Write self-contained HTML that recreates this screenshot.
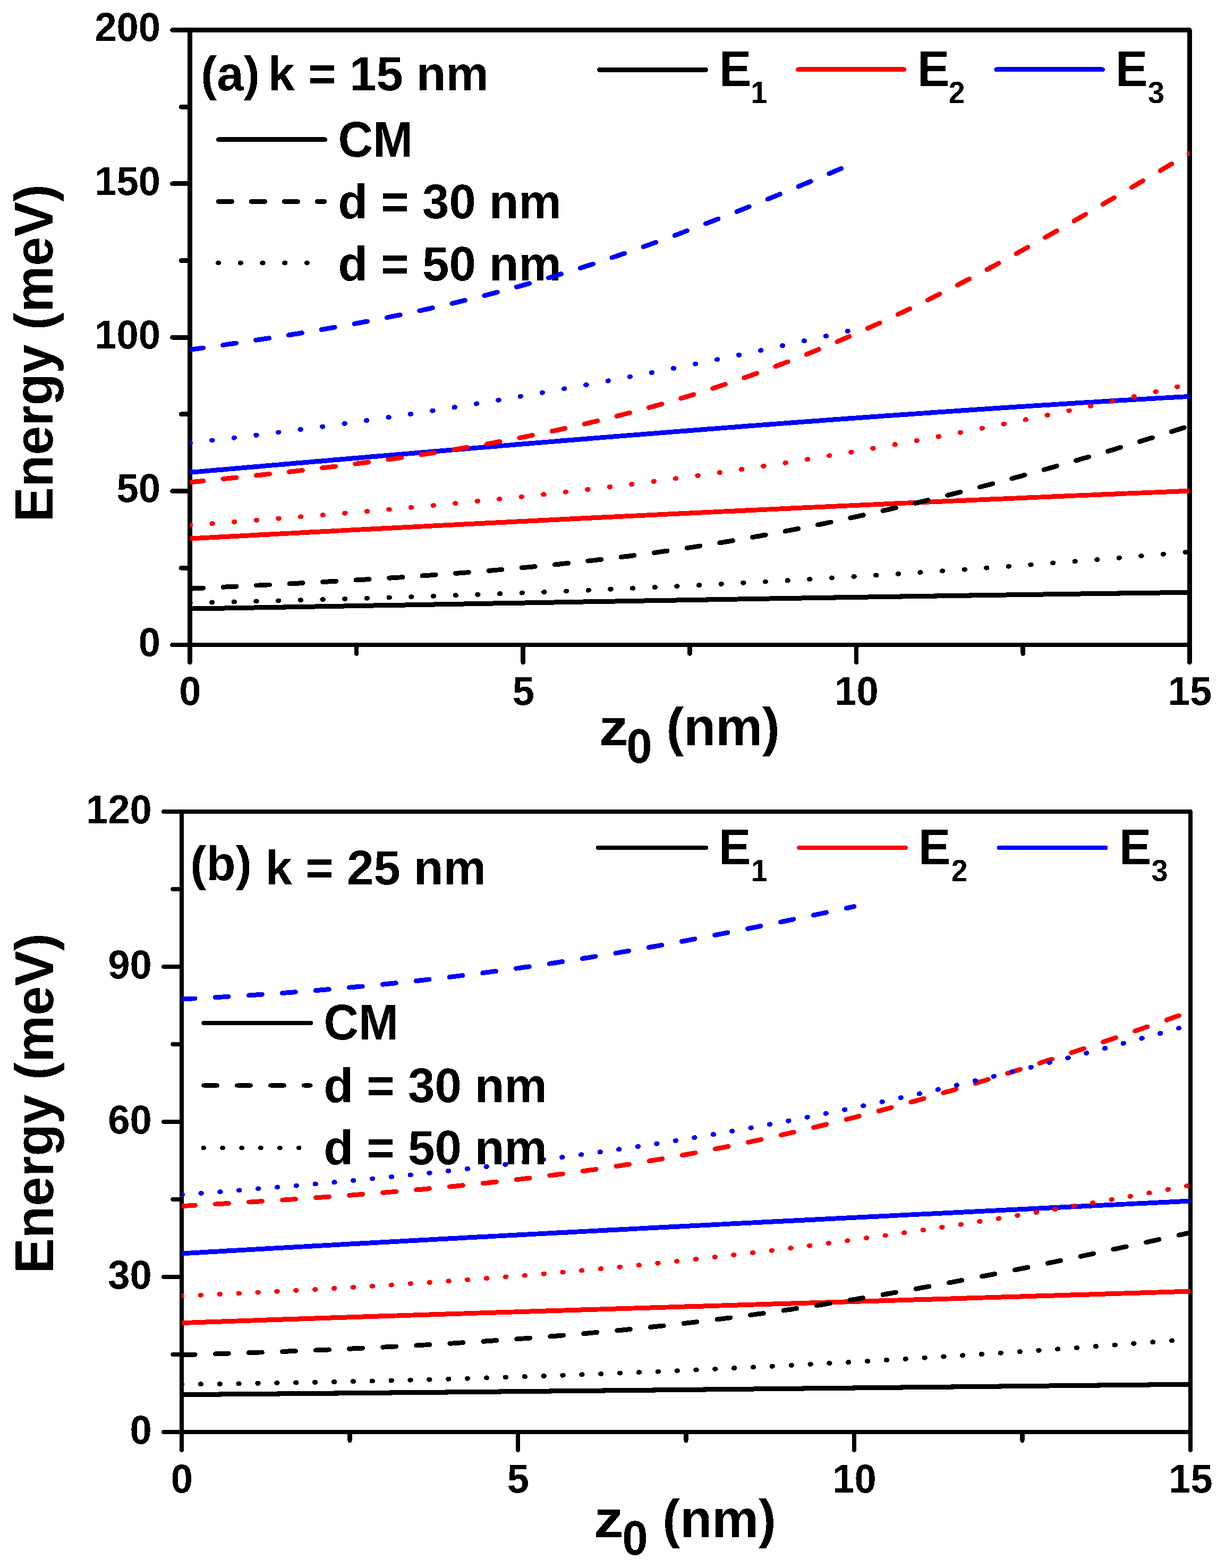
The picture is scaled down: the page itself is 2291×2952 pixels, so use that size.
<!DOCTYPE html><html><head><meta charset="utf-8"><title>Energy vs z0</title>
<style>html,body{margin:0;padding:0;background:#fff;overflow:hidden;}svg{display:block;}text{font-family:'Liberation Sans', sans-serif;font-weight:bold;}</style></head><body>
<svg width="2291" height="2952" viewBox="0 0 2291 2952">
<rect width="2291" height="2952" fill="#fff"/>
<filter id="bin" x="0" y="0" width="2291" height="2952" filterUnits="userSpaceOnUse" color-interpolation-filters="sRGB"><feComponentTransfer><feFuncA type="discrete" tableValues="0 1"/></feComponentTransfer></filter>
<g filter="url(#bin)">
<g id="panel-a">
<text transform="translate(378.2 170.2) scale(1 1)" font-size="90.6" fill="#000">(a)</text>
<text transform="translate(504.4 169.6) scale(1 1)" font-size="90.6" fill="#000">k = 15 nm</text>
<text transform="translate(1354.1 161.9) scale(1 1.04)" font-size="90.6" fill="#000">E</text>
<text transform="translate(1413.3 193.7) scale(1 1.035)" font-size="55.5" fill="#000">1</text>
<text transform="translate(1727.2 161.7) scale(1 1.04)" font-size="90.6" fill="#000">E</text>
<text transform="translate(1785.7 194) scale(1 1.035)" font-size="55.5" fill="#000">2</text>
<text transform="translate(2100.3 161.7) scale(1 1.04)" font-size="90.6" fill="#000">E</text>
<text transform="translate(2161.1 194) scale(1 1.035)" font-size="55.5" fill="#000">3</text>
<path d="M1128.5 131.4H1328.5" stroke="#000000" stroke-width="8.8" stroke-linecap="round"/>
<path d="M1502.3 130.8H1702" stroke="#ff0000" stroke-width="8.8" stroke-linecap="round"/>
<path d="M1875.8 130.8H2075.6" stroke="#0000ff" stroke-width="8.8" stroke-linecap="round"/>
<text transform="translate(636.5 295) scale(1 1.04)" font-size="90.6" fill="#000">CM</text>
<text transform="translate(636.5 410.6) scale(1 1.01)" font-size="90.6" fill="#000">d = 30 nm</text>
<text transform="translate(636.5 527.5) scale(1 1.01)" font-size="90.6" fill="#000">d = 50 nm</text>
<path d="M411.2 262.9H611.8" stroke="#000" stroke-width="8.8" stroke-linecap="round"/>
<path d="M411.2 379.3H611" stroke="#000" stroke-width="8.8" stroke-linecap="round" stroke-dasharray="25.4 36.6"/>
<path d="M410.2 495H611" stroke="#000" stroke-width="8.8" stroke-linecap="round" stroke-dasharray="1.5 40.3"/>
<path d="M357.5 56.5H2239.4V1214H357.5Z" fill="none" stroke="#000" stroke-width="8.6" stroke-linejoin="round"/>
<path d="M357.5 1214H324.5M357.5 1069.3H341M357.5 924.6H324.5M357.5 779.9H341M357.5 635.2H324.5M357.5 490.6H341M357.5 345.9H324.5M357.5 201.2H341M357.5 56.5H324.5M357.5 1214V1247M671.1 1214V1230.5M984.8 1214V1247M1298.5 1214V1230.5M1612.1 1214V1247M1925.8 1214V1230.5M2239.4 1214V1247" fill="none" stroke="#000" stroke-width="8.6" stroke-linecap="round"/>
<clipPath id="clip-a"><rect x="357.5" y="56.5" width="1881.9" height="1157.5"/></clipPath>
<g clip-path="url(#clip-a)">
<path d="M357.5 1146.1L362.5 1146L367.5 1145.9L372.5 1145.9L377.5 1145.8L382.5 1145.7L387.5 1145.6L392.5 1145.5L397.5 1145.4L402.5 1145.3L407.6 1145.2L412.6 1145.2L417.6 1145.1L422.6 1145L427.6 1144.9L432.6 1144.8L437.6 1144.7L442.6 1144.6L447.6 1144.5L452.6 1144.5L457.6 1144.4L462.6 1144.3L467.6 1144.2L472.6 1144.1L477.6 1144L482.6 1143.9L487.6 1143.8L492.6 1143.8L497.6 1143.7L502.6 1143.6L507.7 1143.5L512.7 1143.4L517.7 1143.3L522.7 1143.2L527.7 1143.1L532.7 1143L537.7 1143L542.7 1142.9L547.7 1142.8L552.7 1142.7L557.7 1142.6L562.7 1142.5L567.7 1142.4L572.7 1142.3L577.7 1142.3L582.7 1142.2L587.7 1142.1L592.7 1142L597.7 1141.9L602.7 1141.8L607.8 1141.7L612.8 1141.6L617.8 1141.5L622.8 1141.5L627.8 1141.4L632.8 1141.3L637.8 1141.2L642.8 1141.1L647.8 1141L652.8 1140.9L657.8 1140.8L662.8 1140.7L667.8 1140.7L672.8 1140.6L677.8 1140.5L682.8 1140.4L687.8 1140.3L692.8 1140.2L697.8 1140.1L702.8 1140L707.9 1139.9L712.9 1139.9L717.9 1139.8L722.9 1139.7L727.9 1139.6L732.9 1139.5L737.9 1139.4L742.9 1139.3L747.9 1139.2L752.9 1139.1L757.9 1139.1L762.9 1139L767.9 1138.9L772.9 1138.8L777.9 1138.7L782.9 1138.6L787.9 1138.5L792.9 1138.4L797.9 1138.3L802.9 1138.2L808 1138.2L813 1138.1L818 1138L823 1137.9L828 1137.8L833 1137.7L838 1137.6L843 1137.5L848 1137.4L853 1137.4L858 1137.3L863 1137.2L868 1137.1L873 1137L878 1136.9L883 1136.8L888 1136.7L893 1136.6L898 1136.6L903.1 1136.5L908.1 1136.4L913.1 1136.3L918.1 1136.2L923.1 1136.1L928.1 1136L933.1 1135.9L938.1 1135.8L943.1 1135.8L948.1 1135.7L953.1 1135.6L958.1 1135.5L963.1 1135.4L968.1 1135.3L973.1 1135.2L978.1 1135.1L983.1 1135.1L988.1 1135L993.1 1134.9L998.1 1134.8L1003.2 1134.7L1008.2 1134.6L1013.2 1134.5L1018.2 1134.4L1023.2 1134.3L1028.2 1134.3L1033.2 1134.2L1038.2 1134.1L1043.2 1134L1048.2 1133.9L1053.2 1133.8L1058.2 1133.7L1063.2 1133.6L1068.2 1133.6L1073.2 1133.5L1078.2 1133.4L1083.2 1133.3L1088.2 1133.2L1093.2 1133.1L1098.2 1133L1103.3 1132.9L1108.3 1132.9L1113.3 1132.8L1118.3 1132.7L1123.3 1132.6L1128.3 1132.5L1133.3 1132.4L1138.3 1132.3L1143.3 1132.2L1148.3 1132.2L1153.3 1132.1L1158.3 1132L1163.3 1131.9L1168.3 1131.8L1173.3 1131.7L1178.3 1131.6L1183.3 1131.5L1188.3 1131.5L1193.3 1131.4L1198.3 1131.3L1203.4 1131.2L1208.4 1131.1L1213.4 1131L1218.4 1130.9L1223.4 1130.8L1228.4 1130.8L1233.4 1130.7L1238.4 1130.6L1243.4 1130.5L1248.4 1130.4L1253.4 1130.3L1258.4 1130.2L1263.4 1130.2L1268.4 1130.1L1273.4 1130L1278.4 1129.9L1283.4 1129.8L1288.4 1129.7L1293.4 1129.6L1298.5 1129.6L1303.5 1129.5L1308.5 1129.4L1313.5 1129.3L1318.5 1129.2L1323.5 1129.1L1328.5 1129L1333.5 1129L1338.5 1128.9L1343.5 1128.8L1348.5 1128.7L1353.5 1128.6L1358.5 1128.5L1363.5 1128.4L1368.5 1128.4L1373.5 1128.3L1378.5 1128.2L1383.5 1128.1L1388.5 1128L1393.5 1127.9L1398.6 1127.9L1403.6 1127.8L1408.6 1127.7L1413.6 1127.6L1418.6 1127.5L1423.6 1127.4L1428.6 1127.4L1433.6 1127.3L1438.6 1127.2L1443.6 1127.1L1448.6 1127L1453.6 1126.9L1458.6 1126.9L1463.6 1126.8L1468.6 1126.7L1473.6 1126.6L1478.6 1126.5L1483.6 1126.4L1488.6 1126.4L1493.6 1126.3L1498.7 1126.2L1503.7 1126.1L1508.7 1126L1513.7 1125.9L1518.7 1125.9L1523.7 1125.8L1528.7 1125.7L1533.7 1125.6L1538.7 1125.5L1543.7 1125.5L1548.7 1125.4L1553.7 1125.3L1558.7 1125.2L1563.7 1125.1L1568.7 1125L1573.7 1125L1578.7 1124.9L1583.7 1124.8L1588.7 1124.7L1593.7 1124.6L1598.8 1124.6L1603.8 1124.5L1608.8 1124.4L1613.8 1124.3L1618.8 1124.2L1623.8 1124.2L1628.8 1124.1L1633.8 1124L1638.8 1123.9L1643.8 1123.8L1648.8 1123.8L1653.8 1123.7L1658.8 1123.6L1663.8 1123.5L1668.8 1123.4L1673.8 1123.4L1678.8 1123.3L1683.8 1123.2L1688.8 1123.1L1693.8 1123L1698.9 1123L1703.9 1122.9L1708.9 1122.8L1713.9 1122.7L1718.9 1122.7L1723.9 1122.6L1728.9 1122.5L1733.9 1122.4L1738.9 1122.3L1743.9 1122.3L1748.9 1122.2L1753.9 1122.1L1758.9 1122L1763.9 1122L1768.9 1121.9L1773.9 1121.8L1778.9 1121.7L1783.9 1121.7L1788.9 1121.6L1794 1121.5L1799 1121.4L1804 1121.3L1809 1121.3L1814 1121.2L1819 1121.1L1824 1121L1829 1121L1834 1120.9L1839 1120.8L1844 1120.7L1849 1120.7L1854 1120.6L1859 1120.5L1864 1120.4L1869 1120.4L1874 1120.3L1879 1120.2L1884 1120.2L1889 1120.1L1894.1 1120L1899.1 1119.9L1904.1 1119.9L1909.1 1119.8L1914.1 1119.7L1919.1 1119.6L1924.1 1119.6L1929.1 1119.5L1934.1 1119.4L1939.1 1119.3L1944.1 1119.3L1949.1 1119.2L1954.1 1119.1L1959.1 1119.1L1964.1 1119L1969.1 1118.9L1974.1 1118.8L1979.1 1118.8L1984.1 1118.7L1989.1 1118.6L1994.2 1118.6L1999.2 1118.5L2004.2 1118.4L2009.2 1118.3L2014.2 1118.3L2019.2 1118.2L2024.2 1118.1L2029.2 1118.1L2034.2 1118L2039.2 1117.9L2044.2 1117.9L2049.2 1117.8L2054.2 1117.7L2059.2 1117.7L2064.2 1117.6L2069.2 1117.5L2074.2 1117.4L2079.2 1117.4L2084.2 1117.3L2089.2 1117.2L2094.3 1117.2L2099.3 1117.1L2104.3 1117L2109.3 1117L2114.3 1116.9L2119.3 1116.8L2124.3 1116.8L2129.3 1116.7L2134.3 1116.6L2139.3 1116.6L2144.3 1116.5L2149.3 1116.4L2154.3 1116.4L2159.3 1116.3L2164.3 1116.2L2169.3 1116.2L2174.3 1116.1L2179.3 1116.1L2184.3 1116L2189.3 1115.9L2194.4 1115.9L2199.4 1115.8L2204.4 1115.7L2209.4 1115.7L2214.4 1115.6L2219.4 1115.5L2224.4 1115.5L2229.4 1115.4L2234.4 1115.4L2239.4 1115.3" fill="none" stroke="#000000" stroke-width="8.9" stroke-linecap="butt" stroke-linejoin="round"/>
<path d="M357.5 1014L362.5 1013.7L367.5 1013.4L372.5 1013.2L377.5 1012.9L382.5 1012.6L387.5 1012.4L392.5 1012.1L397.5 1011.8L402.5 1011.6L407.6 1011.3L412.6 1011L417.6 1010.8L422.6 1010.5L427.6 1010.2L432.6 1010L437.6 1009.7L442.6 1009.4L447.6 1009.2L452.6 1008.9L457.6 1008.6L462.6 1008.4L467.6 1008.1L472.6 1007.8L477.6 1007.6L482.6 1007.3L487.6 1007L492.6 1006.8L497.6 1006.5L502.6 1006.2L507.7 1006L512.7 1005.7L517.7 1005.4L522.7 1005.2L527.7 1004.9L532.7 1004.7L537.7 1004.4L542.7 1004.1L547.7 1003.9L552.7 1003.6L557.7 1003.3L562.7 1003.1L567.7 1002.8L572.7 1002.6L577.7 1002.3L582.7 1002L587.7 1001.8L592.7 1001.5L597.7 1001.2L602.7 1001L607.8 1000.7L612.8 1000.5L617.8 1000.2L622.8 999.9L627.8 999.7L632.8 999.4L637.8 999.1L642.8 998.9L647.8 998.6L652.8 998.4L657.8 998.1L662.8 997.8L667.8 997.6L672.8 997.3L677.8 997.1L682.8 996.8L687.8 996.5L692.8 996.3L697.8 996L702.8 995.8L707.9 995.5L712.9 995.2L717.9 995L722.9 994.7L727.9 994.5L732.9 994.2L737.9 994L742.9 993.7L747.9 993.4L752.9 993.2L757.9 992.9L762.9 992.7L767.9 992.4L772.9 992.2L777.9 991.9L782.9 991.6L787.9 991.4L792.9 991.1L797.9 990.9L802.9 990.6L808 990.4L813 990.1L818 989.8L823 989.6L828 989.3L833 989.1L838 988.8L843 988.6L848 988.3L853 988.1L858 987.8L863 987.5L868 987.3L873 987L878 986.8L883 986.5L888 986.3L893 986L898 985.8L903.1 985.5L908.1 985.3L913.1 985L918.1 984.8L923.1 984.5L928.1 984.3L933.1 984L938.1 983.7L943.1 983.5L948.1 983.2L953.1 983L958.1 982.7L963.1 982.5L968.1 982.2L973.1 982L978.1 981.7L983.1 981.5L988.1 981.2L993.1 981L998.1 980.7L1003.2 980.5L1008.2 980.2L1013.2 980L1018.2 979.7L1023.2 979.5L1028.2 979.2L1033.2 979L1038.2 978.7L1043.2 978.5L1048.2 978.2L1053.2 978L1058.2 977.7L1063.2 977.5L1068.2 977.2L1073.2 977L1078.2 976.8L1083.2 976.5L1088.2 976.3L1093.2 976L1098.2 975.8L1103.3 975.5L1108.3 975.3L1113.3 975L1118.3 974.8L1123.3 974.5L1128.3 974.3L1133.3 974L1138.3 973.8L1143.3 973.5L1148.3 973.3L1153.3 973.1L1158.3 972.8L1163.3 972.6L1168.3 972.3L1173.3 972.1L1178.3 971.8L1183.3 971.6L1188.3 971.3L1193.3 971.1L1198.3 970.9L1203.4 970.6L1208.4 970.4L1213.4 970.1L1218.4 969.9L1223.4 969.6L1228.4 969.4L1233.4 969.2L1238.4 968.9L1243.4 968.7L1248.4 968.4L1253.4 968.2L1258.4 967.9L1263.4 967.7L1268.4 967.5L1273.4 967.2L1278.4 967L1283.4 966.7L1288.4 966.5L1293.4 966.3L1298.5 966L1303.5 965.8L1308.5 965.5L1313.5 965.3L1318.5 965.1L1323.5 964.8L1328.5 964.6L1333.5 964.3L1338.5 964.1L1343.5 963.9L1348.5 963.6L1353.5 963.4L1358.5 963.1L1363.5 962.9L1368.5 962.7L1373.5 962.4L1378.5 962.2L1383.5 962L1388.5 961.7L1393.5 961.5L1398.6 961.2L1403.6 961L1408.6 960.8L1413.6 960.5L1418.6 960.3L1423.6 960.1L1428.6 959.8L1433.6 959.6L1438.6 959.4L1443.6 959.1L1448.6 958.9L1453.6 958.6L1458.6 958.4L1463.6 958.2L1468.6 957.9L1473.6 957.7L1478.6 957.5L1483.6 957.2L1488.6 957L1493.6 956.8L1498.7 956.5L1503.7 956.3L1508.7 956.1L1513.7 955.8L1518.7 955.6L1523.7 955.4L1528.7 955.1L1533.7 954.9L1538.7 954.7L1543.7 954.5L1548.7 954.2L1553.7 954L1558.7 953.8L1563.7 953.5L1568.7 953.3L1573.7 953.1L1578.7 952.8L1583.7 952.6L1588.7 952.4L1593.7 952.1L1598.8 951.9L1603.8 951.7L1608.8 951.5L1613.8 951.2L1618.8 951L1623.8 950.8L1628.8 950.5L1633.8 950.3L1638.8 950.1L1643.8 949.9L1648.8 949.6L1653.8 949.4L1658.8 949.2L1663.8 949L1668.8 948.7L1673.8 948.5L1678.8 948.3L1683.8 948L1688.8 947.8L1693.8 947.6L1698.9 947.4L1703.9 947.1L1708.9 946.9L1713.9 946.7L1718.9 946.5L1723.9 946.2L1728.9 946L1733.9 945.8L1738.9 945.6L1743.9 945.4L1748.9 945.1L1753.9 944.9L1758.9 944.7L1763.9 944.5L1768.9 944.2L1773.9 944L1778.9 943.8L1783.9 943.6L1788.9 943.3L1794 943.1L1799 942.9L1804 942.7L1809 942.5L1814 942.2L1819 942L1824 941.8L1829 941.6L1834 941.4L1839 941.1L1844 940.9L1849 940.7L1854 940.5L1859 940.3L1864 940L1869 939.8L1874 939.6L1879 939.4L1884 939.2L1889 938.9L1894.1 938.7L1899.1 938.5L1904.1 938.3L1909.1 938.1L1914.1 937.9L1919.1 937.6L1924.1 937.4L1929.1 937.2L1934.1 937L1939.1 936.8L1944.1 936.6L1949.1 936.3L1954.1 936.1L1959.1 935.9L1964.1 935.7L1969.1 935.5L1974.1 935.3L1979.1 935.1L1984.1 934.8L1989.1 934.6L1994.2 934.4L1999.2 934.2L2004.2 934L2009.2 933.8L2014.2 933.6L2019.2 933.4L2024.2 933.1L2029.2 932.9L2034.2 932.7L2039.2 932.5L2044.2 932.3L2049.2 932.1L2054.2 931.9L2059.2 931.7L2064.2 931.5L2069.2 931.2L2074.2 931L2079.2 930.8L2084.2 930.6L2089.2 930.4L2094.3 930.2L2099.3 930L2104.3 929.8L2109.3 929.6L2114.3 929.4L2119.3 929.1L2124.3 928.9L2129.3 928.7L2134.3 928.5L2139.3 928.3L2144.3 928.1L2149.3 927.9L2154.3 927.7L2159.3 927.5L2164.3 927.3L2169.3 927.1L2174.3 926.9L2179.3 926.7L2184.3 926.5L2189.3 926.3L2194.4 926.1L2199.4 925.8L2204.4 925.6L2209.4 925.4L2214.4 925.2L2219.4 925L2224.4 924.8L2229.4 924.6L2234.4 924.4L2239.4 924.2" fill="none" stroke="#ff0000" stroke-width="8.9" stroke-linecap="butt" stroke-linejoin="round"/>
<path d="M357.5 889.4L362.5 888.9L367.5 888.5L372.5 888.1L377.5 887.6L382.5 887.2L387.5 886.8L392.5 886.3L397.5 885.9L402.5 885.5L407.6 885L412.6 884.6L417.6 884.2L422.6 883.7L427.6 883.3L432.6 882.9L437.6 882.4L442.6 882L447.6 881.6L452.6 881.1L457.6 880.7L462.6 880.3L467.6 879.8L472.6 879.4L477.6 879L482.6 878.5L487.6 878.1L492.6 877.7L497.6 877.2L502.6 876.8L507.7 876.4L512.7 875.9L517.7 875.5L522.7 875.1L527.7 874.6L532.7 874.2L537.7 873.8L542.7 873.3L547.7 872.9L552.7 872.5L557.7 872L562.7 871.6L567.7 871.2L572.7 870.8L577.7 870.3L582.7 869.9L587.7 869.5L592.7 869L597.7 868.6L602.7 868.2L607.8 867.7L612.8 867.3L617.8 866.9L622.8 866.5L627.8 866L632.8 865.6L637.8 865.2L642.8 864.7L647.8 864.3L652.8 863.9L657.8 863.5L662.8 863L667.8 862.6L672.8 862.2L677.8 861.7L682.8 861.3L687.8 860.9L692.8 860.5L697.8 860L702.8 859.6L707.9 859.2L712.9 858.7L717.9 858.3L722.9 857.9L727.9 857.5L732.9 857L737.9 856.6L742.9 856.2L747.9 855.8L752.9 855.3L757.9 854.9L762.9 854.5L767.9 854.1L772.9 853.6L777.9 853.2L782.9 852.8L787.9 852.4L792.9 851.9L797.9 851.5L802.9 851.1L808 850.7L813 850.3L818 849.8L823 849.4L828 849L833 848.6L838 848.1L843 847.7L848 847.3L853 846.9L858 846.5L863 846L868 845.6L873 845.2L878 844.8L883 844.4L888 843.9L893 843.5L898 843.1L903.1 842.7L908.1 842.3L913.1 841.8L918.1 841.4L923.1 841L928.1 840.6L933.1 840.2L938.1 839.8L943.1 839.3L948.1 838.9L953.1 838.5L958.1 838.1L963.1 837.7L968.1 837.3L973.1 836.8L978.1 836.4L983.1 836L988.1 835.6L993.1 835.2L998.1 834.8L1003.2 834.4L1008.2 833.9L1013.2 833.5L1018.2 833.1L1023.2 832.7L1028.2 832.3L1033.2 831.9L1038.2 831.5L1043.2 831.1L1048.2 830.7L1053.2 830.2L1058.2 829.8L1063.2 829.4L1068.2 829L1073.2 828.6L1078.2 828.2L1083.2 827.8L1088.2 827.4L1093.2 827L1098.2 826.6L1103.3 826.2L1108.3 825.8L1113.3 825.3L1118.3 824.9L1123.3 824.5L1128.3 824.1L1133.3 823.7L1138.3 823.3L1143.3 822.9L1148.3 822.5L1153.3 822.1L1158.3 821.7L1163.3 821.3L1168.3 820.9L1173.3 820.5L1178.3 820.1L1183.3 819.7L1188.3 819.3L1193.3 818.9L1198.3 818.5L1203.4 818.1L1208.4 817.7L1213.4 817.3L1218.4 816.9L1223.4 816.5L1228.4 816.1L1233.4 815.7L1238.4 815.3L1243.4 814.9L1248.4 814.5L1253.4 814.1L1258.4 813.7L1263.4 813.3L1268.4 812.9L1273.4 812.5L1278.4 812.1L1283.4 811.7L1288.4 811.4L1293.4 811L1298.5 810.6L1303.5 810.2L1308.5 809.8L1313.5 809.4L1318.5 809L1323.5 808.6L1328.5 808.2L1333.5 807.8L1338.5 807.4L1343.5 807.1L1348.5 806.7L1353.5 806.3L1358.5 805.9L1363.5 805.5L1368.5 805.1L1373.5 804.7L1378.5 804.3L1383.5 804L1388.5 803.6L1393.5 803.2L1398.6 802.8L1403.6 802.4L1408.6 802L1413.6 801.7L1418.6 801.3L1423.6 800.9L1428.6 800.5L1433.6 800.1L1438.6 799.7L1443.6 799.4L1448.6 799L1453.6 798.6L1458.6 798.2L1463.6 797.9L1468.6 797.5L1473.6 797.1L1478.6 796.7L1483.6 796.3L1488.6 796L1493.6 795.6L1498.7 795.2L1503.7 794.8L1508.7 794.5L1513.7 794.1L1518.7 793.7L1523.7 793.4L1528.7 793L1533.7 792.6L1538.7 792.2L1543.7 791.9L1548.7 791.5L1553.7 791.1L1558.7 790.8L1563.7 790.4L1568.7 790L1573.7 789.7L1578.7 789.3L1583.7 788.9L1588.7 788.6L1593.7 788.2L1598.8 787.8L1603.8 787.5L1608.8 787.1L1613.8 786.7L1618.8 786.4L1623.8 786L1628.8 785.7L1633.8 785.3L1638.8 784.9L1643.8 784.6L1648.8 784.2L1653.8 783.9L1658.8 783.5L1663.8 783.1L1668.8 782.8L1673.8 782.4L1678.8 782.1L1683.8 781.7L1688.8 781.4L1693.8 781L1698.9 780.7L1703.9 780.3L1708.9 780L1713.9 779.6L1718.9 779.3L1723.9 778.9L1728.9 778.6L1733.9 778.2L1738.9 777.9L1743.9 777.5L1748.9 777.2L1753.9 776.8L1758.9 776.5L1763.9 776.1L1768.9 775.8L1773.9 775.4L1778.9 775.1L1783.9 774.7L1788.9 774.4L1794 774.1L1799 773.7L1804 773.4L1809 773L1814 772.7L1819 772.4L1824 772L1829 771.7L1834 771.3L1839 771L1844 770.7L1849 770.3L1854 770L1859 769.7L1864 769.3L1869 769L1874 768.7L1879 768.3L1884 768L1889 767.7L1894.1 767.4L1899.1 767L1904.1 766.7L1909.1 766.4L1914.1 766L1919.1 765.7L1924.1 765.4L1929.1 765.1L1934.1 764.7L1939.1 764.4L1944.1 764.1L1949.1 763.8L1954.1 763.5L1959.1 763.1L1964.1 762.8L1969.1 762.5L1974.1 762.2L1979.1 761.9L1984.1 761.5L1989.1 761.2L1994.2 760.9L1999.2 760.6L2004.2 760.3L2009.2 760L2014.2 759.6L2019.2 759.3L2024.2 759L2029.2 758.7L2034.2 758.4L2039.2 758.1L2044.2 757.8L2049.2 757.5L2054.2 757.2L2059.2 756.9L2064.2 756.6L2069.2 756.2L2074.2 755.9L2079.2 755.6L2084.2 755.3L2089.2 755L2094.3 754.7L2099.3 754.4L2104.3 754.1L2109.3 753.8L2114.3 753.5L2119.3 753.2L2124.3 752.9L2129.3 752.6L2134.3 752.3L2139.3 752.1L2144.3 751.8L2149.3 751.5L2154.3 751.2L2159.3 750.9L2164.3 750.6L2169.3 750.3L2174.3 750L2179.3 749.7L2184.3 749.4L2189.3 749.1L2194.4 748.9L2199.4 748.6L2204.4 748.3L2209.4 748L2214.4 747.7L2219.4 747.4L2224.4 747.2L2229.4 746.9L2234.4 746.6L2239.4 746.3" fill="none" stroke="#0000ff" stroke-width="8.9" stroke-linecap="butt" stroke-linejoin="round"/>
<path d="M357.5 1108.3L362.5 1108L367.5 1107.8L372.5 1107.5L377.5 1107.3L382.5 1107.1L387.5 1106.8L392.5 1106.6L397.5 1106.3L402.5 1106.1L407.6 1105.8L412.6 1105.6L417.6 1105.3L422.6 1105.1L427.6 1104.8L432.6 1104.6L437.6 1104.4L442.6 1104.1L447.6 1103.9L452.6 1103.6L457.6 1103.4L462.6 1103.1L467.6 1102.9L472.6 1102.6L477.6 1102.4L482.6 1102.1L487.6 1101.9L492.6 1101.6L497.6 1101.4L502.6 1101.1L507.7 1100.9L512.7 1100.6L517.7 1100.3L522.7 1100.1L527.7 1099.8L532.7 1099.6L537.7 1099.3L542.7 1099.1L547.7 1098.8L552.7 1098.5L557.7 1098.3L562.7 1098L567.7 1097.7L572.7 1097.5L577.7 1097.2L582.7 1096.9L587.7 1096.7L592.7 1096.4L597.7 1096.1L602.7 1095.8L607.8 1095.6L612.8 1095.3L617.8 1095L622.8 1094.7L627.8 1094.5L632.8 1094.2L637.8 1093.9L642.8 1093.6L647.8 1093.3L652.8 1093L657.8 1092.7L662.8 1092.4L667.8 1092.2L672.8 1091.9L677.8 1091.6L682.8 1091.3L687.8 1091L692.8 1090.7L697.8 1090.4L702.8 1090.1L707.9 1089.7L712.9 1089.4L717.9 1089.1L722.9 1088.8L727.9 1088.5L732.9 1088.2L737.9 1087.8L742.9 1087.5L747.9 1087.2L752.9 1086.9L757.9 1086.5L762.9 1086.2L767.9 1085.9L772.9 1085.5L777.9 1085.2L782.9 1084.9L787.9 1084.5L792.9 1084.2L797.9 1083.8L802.9 1083.5L808 1083.1L813 1082.8L818 1082.4L823 1082L828 1081.7L833 1081.3L838 1080.9L843 1080.6L848 1080.2L853 1079.8L858 1079.4L863 1079L868 1078.7L873 1078.3L878 1077.9L883 1077.5L888 1077.1L893 1076.7L898 1076.3L903.1 1075.9L908.1 1075.4L913.1 1075L918.1 1074.6L923.1 1074.2L928.1 1073.8L933.1 1073.3L938.1 1072.9L943.1 1072.5L948.1 1072L953.1 1071.6L958.1 1071.1L963.1 1070.7L968.1 1070.2L973.1 1069.8L978.1 1069.3L983.1 1068.9L988.1 1068.4L993.1 1067.9L998.1 1067.4L1003.2 1067L1008.2 1066.5L1013.2 1066L1018.2 1065.5L1023.2 1065L1028.2 1064.5L1033.2 1064L1038.2 1063.5L1043.2 1063L1048.2 1062.5L1053.2 1062L1058.2 1061.4L1063.2 1060.9L1068.2 1060.4L1073.2 1059.8L1078.2 1059.3L1083.2 1058.8L1088.2 1058.2L1093.2 1057.7L1098.2 1057.1L1103.3 1056.5L1108.3 1056L1113.3 1055.4L1118.3 1054.8L1123.3 1054.3L1128.3 1053.7L1133.3 1053.1L1138.3 1052.5L1143.3 1051.9L1148.3 1051.3L1153.3 1050.7L1158.3 1050.1L1163.3 1049.5L1168.3 1048.8L1173.3 1048.2L1178.3 1047.6L1183.3 1047L1188.3 1046.3L1193.3 1045.7L1198.3 1045L1203.4 1044.4L1208.4 1043.7L1213.4 1043L1218.4 1042.4L1223.4 1041.7L1228.4 1041L1233.4 1040.3L1238.4 1039.6L1243.4 1038.9L1248.4 1038.2L1253.4 1037.5L1258.4 1036.8L1263.4 1036.1L1268.4 1035.4L1273.4 1034.6L1278.4 1033.9L1283.4 1033.2L1288.4 1032.4L1293.4 1031.7L1298.5 1030.9L1303.5 1030.2L1308.5 1029.4L1313.5 1028.6L1318.5 1027.8L1323.5 1027L1328.5 1026.3L1333.5 1025.5L1338.5 1024.7L1343.5 1023.9L1348.5 1023L1353.5 1022.2L1358.5 1021.4L1363.5 1020.6L1368.5 1019.7L1373.5 1018.9L1378.5 1018L1383.5 1017.2L1388.5 1016.3L1393.5 1015.5L1398.6 1014.6L1403.6 1013.7L1408.6 1012.9L1413.6 1012L1418.6 1011.1L1423.6 1010.2L1428.6 1009.3L1433.6 1008.4L1438.6 1007.5L1443.6 1006.6L1448.6 1005.6L1453.6 1004.7L1458.6 1003.8L1463.6 1002.8L1468.6 1001.9L1473.6 1000.9L1478.6 1000L1483.6 999L1488.6 998.1L1493.6 997.1L1498.7 996.1L1503.7 995.1L1508.7 994.2L1513.7 993.2L1518.7 992.2L1523.7 991.2L1528.7 990.2L1533.7 989.2L1538.7 988.1L1543.7 987.1L1548.7 986.1L1553.7 985.1L1558.7 984L1563.7 983L1568.7 982L1573.7 980.9L1578.7 979.8L1583.7 978.8L1588.7 977.7L1593.7 976.6L1598.8 975.6L1603.8 974.5L1608.8 973.4L1613.8 972.3L1618.8 971.2L1623.8 970.1L1628.8 969L1633.8 967.9L1638.8 966.8L1643.8 965.7L1648.8 964.6L1653.8 963.4L1658.8 962.3L1663.8 961.2L1668.8 960L1673.8 958.9L1678.8 957.7L1683.8 956.6L1688.8 955.4L1693.8 954.2L1698.9 953.1L1703.9 951.9L1708.9 950.7L1713.9 949.5L1718.9 948.3L1723.9 947.1L1728.9 945.9L1733.9 944.7L1738.9 943.5L1743.9 942.3L1748.9 941.1L1753.9 939.9L1758.9 938.6L1763.9 937.4L1768.9 936.2L1773.9 934.9L1778.9 933.7L1783.9 932.4L1788.9 931.2L1794 929.9L1799 928.7L1804 927.4L1809 926.1L1814 924.9L1819 923.6L1824 922.3L1829 921L1834 919.7L1839 918.4L1844 917.1L1849 915.8L1854 914.5L1859 913.2L1864 911.9L1869 910.5L1874 909.2L1879 907.9L1884 906.5L1889 905.2L1894.1 903.9L1899.1 902.5L1904.1 901.2L1909.1 899.8L1914.1 898.4L1919.1 897.1L1924.1 895.7L1929.1 894.3L1934.1 893L1939.1 891.6L1944.1 890.2L1949.1 888.8L1954.1 887.4L1959.1 886L1964.1 884.6L1969.1 883.2L1974.1 881.8L1979.1 880.4L1984.1 879L1989.1 877.6L1994.2 876.1L1999.2 874.7L2004.2 873.3L2009.2 871.8L2014.2 870.4L2019.2 869L2024.2 867.5L2029.2 866.1L2034.2 864.6L2039.2 863.1L2044.2 861.7L2049.2 860.2L2054.2 858.7L2059.2 857.3L2064.2 855.8L2069.2 854.3L2074.2 852.8L2079.2 851.3L2084.2 849.9L2089.2 848.4L2094.3 846.9L2099.3 845.4L2104.3 843.8L2109.3 842.3L2114.3 840.8L2119.3 839.3L2124.3 837.8L2129.3 836.3L2134.3 834.7L2139.3 833.2L2144.3 831.7L2149.3 830.1L2154.3 828.6L2159.3 827L2164.3 825.5L2169.3 823.9L2174.3 822.4L2179.3 820.8L2184.3 819.3L2189.3 817.7L2194.4 816.1L2199.4 814.5L2204.4 813L2209.4 811.4L2214.4 809.8L2219.4 808.2L2224.4 806.6L2229.4 805L2234.4 803.4L2239.4 801.8" fill="none" stroke="#000000" stroke-width="8.9" stroke-linecap="round" stroke-linejoin="round" stroke-dasharray="25.2 37.41" stroke-dashoffset="0.09"/>
<path d="M357.5 908L362.5 907.5L367.5 907L372.5 906.5L377.5 906L382.5 905.5L387.5 905L392.5 904.5L397.5 903.9L402.5 903.4L407.6 902.9L412.6 902.4L417.6 901.9L422.6 901.4L427.6 900.8L432.6 900.3L437.6 899.8L442.6 899.3L447.6 898.8L452.6 898.2L457.6 897.7L462.6 897.2L467.6 896.6L472.6 896.1L477.6 895.6L482.6 895L487.6 894.5L492.6 894L497.6 893.4L502.6 892.9L507.7 892.3L512.7 891.8L517.7 891.2L522.7 890.7L527.7 890.1L532.7 889.6L537.7 889L542.7 888.5L547.7 887.9L552.7 887.3L557.7 886.8L562.7 886.2L567.7 885.6L572.7 885L577.7 884.5L582.7 883.9L587.7 883.3L592.7 882.7L597.7 882.1L602.7 881.5L607.8 880.9L612.8 880.3L617.8 879.7L622.8 879.1L627.8 878.5L632.8 877.9L637.8 877.3L642.8 876.6L647.8 876L652.8 875.4L657.8 874.8L662.8 874.1L667.8 873.5L672.8 872.8L677.8 872.2L682.8 871.5L687.8 870.9L692.8 870.2L697.8 869.6L702.8 868.9L707.9 868.2L712.9 867.5L717.9 866.9L722.9 866.2L727.9 865.5L732.9 864.8L737.9 864.1L742.9 863.4L747.9 862.7L752.9 862L757.9 861.3L762.9 860.5L767.9 859.8L772.9 859.1L777.9 858.4L782.9 857.6L787.9 856.9L792.9 856.1L797.9 855.4L802.9 854.6L808 853.8L813 853.1L818 852.3L823 851.5L828 850.7L833 849.9L838 849.1L843 848.3L848 847.5L853 846.7L858 845.9L863 845.1L868 844.2L873 843.4L878 842.5L883 841.7L888 840.8L893 840L898 839.1L903.1 838.2L908.1 837.3L913.1 836.5L918.1 835.6L923.1 834.7L928.1 833.8L933.1 832.8L938.1 831.9L943.1 831L948.1 830.1L953.1 829.1L958.1 828.2L963.1 827.2L968.1 826.3L973.1 825.3L978.1 824.3L983.1 823.3L988.1 822.4L993.1 821.4L998.1 820.4L1003.2 819.3L1008.2 818.3L1013.2 817.3L1018.2 816.3L1023.2 815.2L1028.2 814.2L1033.2 813.1L1038.2 812.1L1043.2 811L1048.2 809.9L1053.2 808.8L1058.2 807.7L1063.2 806.6L1068.2 805.5L1073.2 804.4L1078.2 803.3L1083.2 802.2L1088.2 801L1093.2 799.9L1098.2 798.7L1103.3 797.5L1108.3 796.4L1113.3 795.2L1118.3 794L1123.3 792.8L1128.3 791.6L1133.3 790.4L1138.3 789.1L1143.3 787.9L1148.3 786.7L1153.3 785.4L1158.3 784.1L1163.3 782.9L1168.3 781.6L1173.3 780.3L1178.3 779L1183.3 777.7L1188.3 776.4L1193.3 775.1L1198.3 773.7L1203.4 772.4L1208.4 771L1213.4 769.7L1218.4 768.3L1223.4 766.9L1228.4 765.5L1233.4 764.1L1238.4 762.7L1243.4 761.3L1248.4 759.9L1253.4 758.4L1258.4 757L1263.4 755.5L1268.4 754L1273.4 752.6L1278.4 751.1L1283.4 749.6L1288.4 748L1293.4 746.5L1298.5 745L1303.5 743.5L1308.5 741.9L1313.5 740.3L1318.5 738.8L1323.5 737.2L1328.5 735.6L1333.5 734L1338.5 732.4L1343.5 730.7L1348.5 729.1L1353.5 727.4L1358.5 725.8L1363.5 724.1L1368.5 722.4L1373.5 720.7L1378.5 719L1383.5 717.3L1388.5 715.6L1393.5 713.9L1398.6 712.1L1403.6 710.4L1408.6 708.6L1413.6 706.8L1418.6 705L1423.6 703.2L1428.6 701.4L1433.6 699.6L1438.6 697.7L1443.6 695.9L1448.6 694L1453.6 692.2L1458.6 690.3L1463.6 688.4L1468.6 686.5L1473.6 684.6L1478.6 682.7L1483.6 680.8L1488.6 678.8L1493.6 676.9L1498.7 674.9L1503.7 672.9L1508.7 671L1513.7 669L1518.7 667L1523.7 664.9L1528.7 662.9L1533.7 660.9L1538.7 658.8L1543.7 656.8L1548.7 654.7L1553.7 652.6L1558.7 650.6L1563.7 648.5L1568.7 646.3L1573.7 644.2L1578.7 642.1L1583.7 640L1588.7 637.8L1593.7 635.7L1598.8 633.5L1603.8 631.3L1608.8 629.1L1613.8 626.9L1618.8 624.7L1623.8 622.5L1628.8 620.3L1633.8 618L1638.8 615.8L1643.8 613.5L1648.8 611.2L1653.8 609L1658.8 606.7L1663.8 604.4L1668.8 602L1673.8 599.7L1678.8 597.4L1683.8 595.1L1688.8 592.7L1693.8 590.3L1698.9 588L1703.9 585.6L1708.9 583.2L1713.9 580.8L1718.9 578.4L1723.9 576L1728.9 573.5L1733.9 571.1L1738.9 568.6L1743.9 566.2L1748.9 563.7L1753.9 561.2L1758.9 558.7L1763.9 556.2L1768.9 553.7L1773.9 551.2L1778.9 548.7L1783.9 546.2L1788.9 543.6L1794 541L1799 538.5L1804 535.9L1809 533.3L1814 530.7L1819 528.1L1824 525.5L1829 522.9L1834 520.2L1839 517.6L1844 514.9L1849 512.3L1854 509.6L1859 506.9L1864 504.3L1869 501.6L1874 498.9L1879 496.2L1884 493.4L1889 490.7L1894.1 488L1899.1 485.2L1904.1 482.5L1909.1 479.7L1914.1 477L1919.1 474.2L1924.1 471.4L1929.1 468.6L1934.1 465.9L1939.1 463.1L1944.1 460.3L1949.1 457.5L1954.1 454.6L1959.1 451.8L1964.1 449L1969.1 446.2L1974.1 443.3L1979.1 440.5L1984.1 437.6L1989.1 434.8L1994.2 431.9L1999.2 429.1L2004.2 426.2L2009.2 423.3L2014.2 420.5L2019.2 417.6L2024.2 414.7L2029.2 411.8L2034.2 408.9L2039.2 406L2044.2 403.1L2049.2 400.2L2054.2 397.3L2059.2 394.4L2064.2 391.5L2069.2 388.6L2074.2 385.7L2079.2 382.8L2084.2 379.8L2089.2 376.9L2094.3 374L2099.3 371.1L2104.3 368.1L2109.3 365.2L2114.3 362.3L2119.3 359.3L2124.3 356.4L2129.3 353.5L2134.3 350.5L2139.3 347.6L2144.3 344.6L2149.3 341.7L2154.3 338.8L2159.3 335.8L2164.3 332.9L2169.3 329.9L2174.3 327L2179.3 324.1L2184.3 321.1L2189.3 318.2L2194.4 315.2L2199.4 312.3L2204.4 309.3L2209.4 306.4L2214.4 303.5L2219.4 300.5L2224.4 297.6L2229.4 294.7L2234.4 291.7L2239.4 288.8" fill="none" stroke="#ff0000" stroke-width="8.9" stroke-linecap="round" stroke-linejoin="round" stroke-dasharray="25.2 37.41" stroke-dashoffset="-0.14"/>
<path d="M357.5 658.4L362.5 657.7L367.5 657L372.6 656.3L377.6 655.6L382.6 654.9L387.6 654.2L392.6 653.5L397.6 652.7L402.7 652L407.7 651.3L412.7 650.6L417.7 649.9L422.7 649.1L427.8 648.4L432.8 647.7L437.8 647L442.8 646.2L447.8 645.5L452.8 644.7L457.9 644L462.9 643.2L467.9 642.5L472.9 641.7L477.9 641L483 640.2L488 639.5L493 638.7L498 637.9L503 637.2L508.1 636.4L513.1 635.6L518.1 634.8L523.1 634L528.1 633.2L533.1 632.4L538.2 631.6L543.2 630.8L548.2 630L553.2 629.2L558.2 628.4L563.3 627.6L568.3 626.7L573.3 625.9L578.3 625.1L583.3 624.2L588.3 623.4L593.4 622.5L598.4 621.7L603.4 620.8L608.4 620L613.4 619.1L618.5 618.2L623.5 617.4L628.5 616.5L633.5 615.6L638.5 614.7L643.5 613.8L648.6 612.9L653.6 612L658.6 611.1L663.6 610.2L668.6 609.2L673.7 608.3L678.7 607.4L683.7 606.4L688.7 605.5L693.7 604.5L698.8 603.6L703.8 602.6L708.8 601.6L713.8 600.6L718.8 599.7L723.8 598.7L728.9 597.7L733.9 596.7L738.9 595.7L743.9 594.6L748.9 593.6L754 592.6L759 591.6L764 590.5L769 589.5L774 588.4L779 587.3L784.1 586.3L789.1 585.2L794.1 584.1L799.1 583L804.1 581.9L809.2 580.8L814.2 579.7L819.2 578.6L824.2 577.4L829.2 576.3L834.2 575.2L839.3 574L844.3 572.8L849.3 571.7L854.3 570.5L859.3 569.3L864.4 568.1L869.4 566.9L874.4 565.7L879.4 564.5L884.4 563.3L889.5 562L894.5 560.8L899.5 559.6L904.5 558.3L909.5 557L914.5 555.8L919.6 554.5L924.6 553.2L929.6 551.9L934.6 550.6L939.6 549.2L944.7 547.9L949.7 546.6L954.7 545.2L959.7 543.9L964.7 542.5L969.7 541.1L974.8 539.8L979.8 538.4L984.8 537L989.8 535.5L994.8 534.1L999.9 532.7L1004.9 531.2L1009.9 529.8L1014.9 528.3L1019.9 526.9L1024.9 525.4L1030 523.9L1035 522.4L1040 520.9L1045 519.4L1050 517.9L1055.1 516.3L1060.1 514.8L1065.1 513.2L1070.1 511.7L1075.1 510.1L1080.1 508.5L1085.2 507L1090.2 505.4L1095.2 503.8L1100.2 502.2L1105.2 500.5L1110.3 498.9L1115.3 497.3L1120.3 495.6L1125.3 494L1130.3 492.3L1135.4 490.7L1140.4 489L1145.4 487.3L1150.4 485.6L1155.4 483.9L1160.4 482.2L1165.5 480.5L1170.5 478.8L1175.5 477.1L1180.5 475.3L1185.5 473.6L1190.6 471.8L1195.6 470.1L1200.6 468.3L1205.6 466.6L1210.6 464.8L1215.6 463L1220.7 461.2L1225.7 459.4L1230.7 457.6L1235.7 455.8L1240.7 454L1245.8 452.1L1250.8 450.3L1255.8 448.5L1260.8 446.6L1265.8 444.8L1270.8 442.9L1275.9 441.1L1280.9 439.2L1285.9 437.3L1290.9 435.4L1295.9 433.6L1301 431.7L1306 429.8L1311 427.9L1316 425.9L1321 424L1326.1 422.1L1331.1 420.2L1336.1 418.2L1341.1 416.3L1346.1 414.4L1351.1 412.4L1356.2 410.5L1361.2 408.5L1366.2 406.5L1371.2 404.6L1376.2 402.6L1381.3 400.6L1386.3 398.6L1391.3 396.6L1396.3 394.6L1401.3 392.6L1406.3 390.6L1411.4 388.6L1416.4 386.6L1421.4 384.6L1426.4 382.6L1431.4 380.5L1436.5 378.5L1441.5 376.5L1446.5 374.4L1451.5 372.4L1456.5 370.3L1461.5 368.3L1466.6 366.2L1471.6 364.1L1476.6 362.1L1481.6 360L1486.6 357.9L1491.7 355.9L1496.7 353.8L1501.7 351.7L1506.7 349.6L1511.7 347.5L1516.8 345.4L1521.8 343.3L1526.8 341.2L1531.8 339.1L1536.8 337L1541.8 334.9L1546.9 332.8L1551.9 330.6L1556.9 328.5L1561.9 326.4L1566.9 324.3L1572 322.1L1577 320L1582 317.9L1587 315.7L1592 313.6L1597 311.4L1602.1 309.3L1607.1 307.2L1612.1 305" fill="none" stroke="#0000ff" stroke-width="8.9" stroke-linecap="round" stroke-linejoin="round" stroke-dasharray="25.2 37.44" stroke-dashoffset="-0.14"/>
<path d="M357.5 1134.9L362.5 1134.8L367.5 1134.7L372.5 1134.5L377.5 1134.4L382.5 1134.3L387.5 1134.2L392.5 1134.1L397.5 1134L402.5 1133.9L407.6 1133.7L412.6 1133.6L417.6 1133.5L422.6 1133.4L427.6 1133.3L432.6 1133.1L437.6 1133L442.6 1132.9L447.6 1132.8L452.6 1132.7L457.6 1132.5L462.6 1132.4L467.6 1132.3L472.6 1132.2L477.6 1132L482.6 1131.9L487.6 1131.8L492.6 1131.7L497.6 1131.5L502.6 1131.4L507.7 1131.3L512.7 1131.2L517.7 1131L522.7 1130.9L527.7 1130.8L532.7 1130.6L537.7 1130.5L542.7 1130.4L547.7 1130.2L552.7 1130.1L557.7 1130L562.7 1129.8L567.7 1129.7L572.7 1129.6L577.7 1129.4L582.7 1129.3L587.7 1129.2L592.7 1129L597.7 1128.9L602.7 1128.7L607.8 1128.6L612.8 1128.5L617.8 1128.3L622.8 1128.2L627.8 1128L632.8 1127.9L637.8 1127.7L642.8 1127.6L647.8 1127.5L652.8 1127.3L657.8 1127.2L662.8 1127L667.8 1126.9L672.8 1126.7L677.8 1126.6L682.8 1126.4L687.8 1126.3L692.8 1126.1L697.8 1126L702.8 1125.8L707.9 1125.7L712.9 1125.5L717.9 1125.3L722.9 1125.2L727.9 1125L732.9 1124.9L737.9 1124.7L742.9 1124.6L747.9 1124.4L752.9 1124.2L757.9 1124.1L762.9 1123.9L767.9 1123.8L772.9 1123.6L777.9 1123.4L782.9 1123.3L787.9 1123.1L792.9 1122.9L797.9 1122.8L802.9 1122.6L808 1122.4L813 1122.3L818 1122.1L823 1121.9L828 1121.8L833 1121.6L838 1121.4L843 1121.3L848 1121.1L853 1120.9L858 1120.7L863 1120.6L868 1120.4L873 1120.2L878 1120L883 1119.9L888 1119.7L893 1119.5L898 1119.3L903.1 1119.1L908.1 1119L913.1 1118.8L918.1 1118.6L923.1 1118.4L928.1 1118.2L933.1 1118L938.1 1117.9L943.1 1117.7L948.1 1117.5L953.1 1117.3L958.1 1117.1L963.1 1116.9L968.1 1116.7L973.1 1116.5L978.1 1116.3L983.1 1116.1L988.1 1116L993.1 1115.8L998.1 1115.6L1003.2 1115.4L1008.2 1115.2L1013.2 1115L1018.2 1114.8L1023.2 1114.6L1028.2 1114.4L1033.2 1114.2L1038.2 1114L1043.2 1113.8L1048.2 1113.6L1053.2 1113.4L1058.2 1113.2L1063.2 1113L1068.2 1112.8L1073.2 1112.5L1078.2 1112.3L1083.2 1112.1L1088.2 1111.9L1093.2 1111.7L1098.2 1111.5L1103.3 1111.3L1108.3 1111.1L1113.3 1110.9L1118.3 1110.6L1123.3 1110.4L1128.3 1110.2L1133.3 1110L1138.3 1109.8L1143.3 1109.6L1148.3 1109.3L1153.3 1109.1L1158.3 1108.9L1163.3 1108.7L1168.3 1108.5L1173.3 1108.2L1178.3 1108L1183.3 1107.8L1188.3 1107.6L1193.3 1107.3L1198.3 1107.1L1203.4 1106.9L1208.4 1106.7L1213.4 1106.4L1218.4 1106.2L1223.4 1106L1228.4 1105.7L1233.4 1105.5L1238.4 1105.3L1243.4 1105L1248.4 1104.8L1253.4 1104.6L1258.4 1104.3L1263.4 1104.1L1268.4 1103.8L1273.4 1103.6L1278.4 1103.4L1283.4 1103.1L1288.4 1102.9L1293.4 1102.6L1298.5 1102.4L1303.5 1102.1L1308.5 1101.9L1313.5 1101.6L1318.5 1101.4L1323.5 1101.2L1328.5 1100.9L1333.5 1100.7L1338.5 1100.4L1343.5 1100.1L1348.5 1099.9L1353.5 1099.6L1358.5 1099.4L1363.5 1099.1L1368.5 1098.9L1373.5 1098.6L1378.5 1098.4L1383.5 1098.1L1388.5 1097.8L1393.5 1097.6L1398.6 1097.3L1403.6 1097.1L1408.6 1096.8L1413.6 1096.5L1418.6 1096.3L1423.6 1096L1428.6 1095.7L1433.6 1095.5L1438.6 1095.2L1443.6 1094.9L1448.6 1094.6L1453.6 1094.4L1458.6 1094.1L1463.6 1093.8L1468.6 1093.5L1473.6 1093.3L1478.6 1093L1483.6 1092.7L1488.6 1092.4L1493.6 1092.2L1498.7 1091.9L1503.7 1091.6L1508.7 1091.3L1513.7 1091L1518.7 1090.7L1523.7 1090.5L1528.7 1090.2L1533.7 1089.9L1538.7 1089.6L1543.7 1089.3L1548.7 1089L1553.7 1088.7L1558.7 1088.4L1563.7 1088.1L1568.7 1087.8L1573.7 1087.5L1578.7 1087.2L1583.7 1087L1588.7 1086.7L1593.7 1086.4L1598.8 1086.1L1603.8 1085.8L1608.8 1085.4L1613.8 1085.1L1618.8 1084.8L1623.8 1084.5L1628.8 1084.2L1633.8 1083.9L1638.8 1083.6L1643.8 1083.3L1648.8 1083L1653.8 1082.7L1658.8 1082.4L1663.8 1082.1L1668.8 1081.7L1673.8 1081.4L1678.8 1081.1L1683.8 1080.8L1688.8 1080.5L1693.8 1080.2L1698.9 1079.8L1703.9 1079.5L1708.9 1079.2L1713.9 1078.9L1718.9 1078.5L1723.9 1078.2L1728.9 1077.9L1733.9 1077.6L1738.9 1077.2L1743.9 1076.9L1748.9 1076.6L1753.9 1076.2L1758.9 1075.9L1763.9 1075.6L1768.9 1075.2L1773.9 1074.9L1778.9 1074.6L1783.9 1074.2L1788.9 1073.9L1794 1073.6L1799 1073.2L1804 1072.9L1809 1072.5L1814 1072.2L1819 1071.8L1824 1071.5L1829 1071.2L1834 1070.8L1839 1070.5L1844 1070.1L1849 1069.8L1854 1069.4L1859 1069L1864 1068.7L1869 1068.3L1874 1068L1879 1067.6L1884 1067.3L1889 1066.9L1894.1 1066.5L1899.1 1066.2L1904.1 1065.8L1909.1 1065.4L1914.1 1065.1L1919.1 1064.7L1924.1 1064.3L1929.1 1064L1934.1 1063.6L1939.1 1063.2L1944.1 1062.9L1949.1 1062.5L1954.1 1062.1L1959.1 1061.7L1964.1 1061.4L1969.1 1061L1974.1 1060.6L1979.1 1060.2L1984.1 1059.8L1989.1 1059.5L1994.2 1059.1L1999.2 1058.7L2004.2 1058.3L2009.2 1057.9L2014.2 1057.5L2019.2 1057.1L2024.2 1056.8L2029.2 1056.4L2034.2 1056L2039.2 1055.6L2044.2 1055.2L2049.2 1054.8L2054.2 1054.4L2059.2 1054L2064.2 1053.6L2069.2 1053.2L2074.2 1052.8L2079.2 1052.4L2084.2 1052L2089.2 1051.6L2094.3 1051.2L2099.3 1050.8L2104.3 1050.4L2109.3 1049.9L2114.3 1049.5L2119.3 1049.1L2124.3 1048.7L2129.3 1048.3L2134.3 1047.9L2139.3 1047.5L2144.3 1047L2149.3 1046.6L2154.3 1046.2L2159.3 1045.8L2164.3 1045.4L2169.3 1044.9L2174.3 1044.5L2179.3 1044.1L2184.3 1043.7L2189.3 1043.2L2194.4 1042.8L2199.4 1042.4L2204.4 1041.9L2209.4 1041.5L2214.4 1041.1L2219.4 1040.6L2224.4 1040.2L2229.4 1039.8L2234.4 1039.3L2239.4 1038.9" fill="none" stroke="#000000" stroke-width="8.9" stroke-linecap="round" stroke-linejoin="round" stroke-dasharray="1.5 40.21" stroke-dashoffset="0.82"/>
<path d="M357.5 988.8L362.5 988.4L367.5 988.1L372.5 987.7L377.5 987.3L382.5 987L387.5 986.6L392.5 986.2L397.5 985.9L402.5 985.5L407.6 985.1L412.6 984.7L417.6 984.4L422.6 984L427.6 983.6L432.6 983.2L437.6 982.9L442.6 982.5L447.6 982.1L452.6 981.7L457.6 981.3L462.6 981L467.6 980.6L472.6 980.2L477.6 979.8L482.6 979.4L487.6 979L492.6 978.7L497.6 978.3L502.6 977.9L507.7 977.5L512.7 977.1L517.7 976.7L522.7 976.3L527.7 975.9L532.7 975.5L537.7 975.2L542.7 974.8L547.7 974.4L552.7 974L557.7 973.6L562.7 973.2L567.7 972.8L572.7 972.4L577.7 972L582.7 971.6L587.7 971.2L592.7 970.8L597.7 970.4L602.7 970L607.8 969.6L612.8 969.1L617.8 968.7L622.8 968.3L627.8 967.9L632.8 967.5L637.8 967.1L642.8 966.7L647.8 966.3L652.8 965.8L657.8 965.4L662.8 965L667.8 964.6L672.8 964.2L677.8 963.7L682.8 963.3L687.8 962.9L692.8 962.5L697.8 962L702.8 961.6L707.9 961.2L712.9 960.7L717.9 960.3L722.9 959.9L727.9 959.4L732.9 959L737.9 958.6L742.9 958.1L747.9 957.7L752.9 957.2L757.9 956.8L762.9 956.3L767.9 955.9L772.9 955.4L777.9 955L782.9 954.5L787.9 954.1L792.9 953.6L797.9 953.2L802.9 952.7L808 952.2L813 951.8L818 951.3L823 950.9L828 950.4L833 949.9L838 949.5L843 949L848 948.5L853 948L858 947.6L863 947.1L868 946.6L873 946.1L878 945.6L883 945.1L888 944.7L893 944.2L898 943.7L903.1 943.2L908.1 942.7L913.1 942.2L918.1 941.7L923.1 941.2L928.1 940.7L933.1 940.2L938.1 939.7L943.1 939.2L948.1 938.7L953.1 938.1L958.1 937.6L963.1 937.1L968.1 936.6L973.1 936.1L978.1 935.6L983.1 935L988.1 934.5L993.1 934L998.1 933.5L1003.2 932.9L1008.2 932.4L1013.2 931.8L1018.2 931.3L1023.2 930.8L1028.2 930.2L1033.2 929.7L1038.2 929.1L1043.2 928.6L1048.2 928L1053.2 927.5L1058.2 926.9L1063.2 926.4L1068.2 925.8L1073.2 925.2L1078.2 924.7L1083.2 924.1L1088.2 923.5L1093.2 923L1098.2 922.4L1103.3 921.8L1108.3 921.2L1113.3 920.7L1118.3 920.1L1123.3 919.5L1128.3 918.9L1133.3 918.3L1138.3 917.7L1143.3 917.1L1148.3 916.5L1153.3 915.9L1158.3 915.3L1163.3 914.7L1168.3 914.1L1173.3 913.5L1178.3 912.9L1183.3 912.3L1188.3 911.7L1193.3 911L1198.3 910.4L1203.4 909.8L1208.4 909.2L1213.4 908.5L1218.4 907.9L1223.4 907.3L1228.4 906.6L1233.4 906L1238.4 905.3L1243.4 904.7L1248.4 904.1L1253.4 903.4L1258.4 902.7L1263.4 902.1L1268.4 901.4L1273.4 900.8L1278.4 900.1L1283.4 899.4L1288.4 898.8L1293.4 898.1L1298.5 897.4L1303.5 896.7L1308.5 896.1L1313.5 895.4L1318.5 894.7L1323.5 894L1328.5 893.3L1333.5 892.6L1338.5 891.9L1343.5 891.2L1348.5 890.5L1353.5 889.8L1358.5 889.1L1363.5 888.4L1368.5 887.6L1373.5 886.9L1378.5 886.2L1383.5 885.5L1388.5 884.8L1393.5 884L1398.6 883.3L1403.6 882.6L1408.6 881.8L1413.6 881.1L1418.6 880.3L1423.6 879.6L1428.6 878.8L1433.6 878.1L1438.6 877.3L1443.6 876.6L1448.6 875.8L1453.6 875L1458.6 874.3L1463.6 873.5L1468.6 872.7L1473.6 872L1478.6 871.2L1483.6 870.4L1488.6 869.6L1493.6 868.8L1498.7 868L1503.7 867.3L1508.7 866.5L1513.7 865.7L1518.7 864.9L1523.7 864.1L1528.7 863.3L1533.7 862.4L1538.7 861.6L1543.7 860.8L1548.7 860L1553.7 859.2L1558.7 858.4L1563.7 857.5L1568.7 856.7L1573.7 855.9L1578.7 855.1L1583.7 854.2L1588.7 853.4L1593.7 852.5L1598.8 851.7L1603.8 850.9L1608.8 850L1613.8 849.2L1618.8 848.3L1623.8 847.4L1628.8 846.6L1633.8 845.7L1638.8 844.9L1643.8 844L1648.8 843.1L1653.8 842.3L1658.8 841.4L1663.8 840.5L1668.8 839.6L1673.8 838.7L1678.8 837.9L1683.8 837L1688.8 836.1L1693.8 835.2L1698.9 834.3L1703.9 833.4L1708.9 832.5L1713.9 831.6L1718.9 830.7L1723.9 829.8L1728.9 828.9L1733.9 827.9L1738.9 827L1743.9 826.1L1748.9 825.2L1753.9 824.3L1758.9 823.3L1763.9 822.4L1768.9 821.5L1773.9 820.5L1778.9 819.6L1783.9 818.7L1788.9 817.7L1794 816.8L1799 815.8L1804 814.9L1809 813.9L1814 813L1819 812L1824 811L1829 810.1L1834 809.1L1839 808.2L1844 807.2L1849 806.2L1854 805.2L1859 804.3L1864 803.3L1869 802.3L1874 801.3L1879 800.3L1884 799.3L1889 798.3L1894.1 797.3L1899.1 796.3L1904.1 795.3L1909.1 794.3L1914.1 793.3L1919.1 792.3L1924.1 791.3L1929.1 790.3L1934.1 789.3L1939.1 788.3L1944.1 787.3L1949.1 786.2L1954.1 785.2L1959.1 784.2L1964.1 783.1L1969.1 782.1L1974.1 781.1L1979.1 780L1984.1 779L1989.1 778L1994.2 776.9L1999.2 775.9L2004.2 774.8L2009.2 773.8L2014.2 772.7L2019.2 771.7L2024.2 770.6L2029.2 769.5L2034.2 768.5L2039.2 767.4L2044.2 766.3L2049.2 765.3L2054.2 764.2L2059.2 763.1L2064.2 762L2069.2 761L2074.2 759.9L2079.2 758.8L2084.2 757.7L2089.2 756.6L2094.3 755.5L2099.3 754.4L2104.3 753.3L2109.3 752.2L2114.3 751.1L2119.3 750L2124.3 748.9L2129.3 747.8L2134.3 746.7L2139.3 745.6L2144.3 744.5L2149.3 743.3L2154.3 742.2L2159.3 741.1L2164.3 740L2169.3 738.8L2174.3 737.7L2179.3 736.6L2184.3 735.5L2189.3 734.3L2194.4 733.2L2199.4 732L2204.4 730.9L2209.4 729.7L2214.4 728.6L2219.4 727.4L2224.4 726.3L2229.4 725.1L2234.4 724L2239.4 722.8" fill="none" stroke="#ff0000" stroke-width="8.9" stroke-linecap="round" stroke-linejoin="round" stroke-dasharray="1.5 40.25" stroke-dashoffset="0.23"/>
<path d="M357.5 833.7L362.5 833.2L367.5 832.6L372.6 832L377.6 831.5L382.6 830.9L387.6 830.3L392.6 829.8L397.6 829.2L402.7 828.6L407.7 828L412.7 827.5L417.7 826.9L422.7 826.3L427.8 825.7L432.8 825.1L437.8 824.5L442.8 823.9L447.8 823.3L452.8 822.7L457.9 822.1L462.9 821.5L467.9 820.9L472.9 820.3L477.9 819.7L483 819.1L488 818.4L493 817.8L498 817.2L503 816.6L508.1 816L513.1 815.3L518.1 814.7L523.1 814.1L528.1 813.4L533.1 812.8L538.2 812.1L543.2 811.5L548.2 810.9L553.2 810.2L558.2 809.6L563.3 808.9L568.3 808.2L573.3 807.6L578.3 806.9L583.3 806.3L588.3 805.6L593.4 804.9L598.4 804.3L603.4 803.6L608.4 802.9L613.4 802.2L618.5 801.6L623.5 800.9L628.5 800.2L633.5 799.5L638.5 798.8L643.5 798.1L648.6 797.4L653.6 796.7L658.6 796L663.6 795.3L668.6 794.6L673.7 793.9L678.7 793.2L683.7 792.5L688.7 791.8L693.7 791.1L698.8 790.4L703.8 789.6L708.8 788.9L713.8 788.2L718.8 787.5L723.8 786.7L728.9 786L733.9 785.3L738.9 784.5L743.9 783.8L748.9 783L754 782.3L759 781.5L764 780.8L769 780L774 779.3L779 778.5L784.1 777.8L789.1 777L794.1 776.3L799.1 775.5L804.1 774.7L809.2 773.9L814.2 773.2L819.2 772.4L824.2 771.6L829.2 770.8L834.2 770.1L839.3 769.3L844.3 768.5L849.3 767.7L854.3 766.9L859.3 766.1L864.4 765.3L869.4 764.5L874.4 763.7L879.4 762.9L884.4 762.1L889.5 761.3L894.5 760.5L899.5 759.7L904.5 758.8L909.5 758L914.5 757.2L919.6 756.4L924.6 755.5L929.6 754.7L934.6 753.9L939.6 753.1L944.7 752.2L949.7 751.4L954.7 750.5L959.7 749.7L964.7 748.9L969.7 748L974.8 747.2L979.8 746.3L984.8 745.4L989.8 744.6L994.8 743.7L999.9 742.9L1004.9 742L1009.9 741.1L1014.9 740.3L1019.9 739.4L1024.9 738.5L1030 737.6L1035 736.8L1040 735.9L1045 735L1050 734.1L1055.1 733.2L1060.1 732.3L1065.1 731.4L1070.1 730.5L1075.1 729.6L1080.1 728.7L1085.2 727.8L1090.2 726.9L1095.2 726L1100.2 725.1L1105.2 724.2L1110.3 723.3L1115.3 722.4L1120.3 721.5L1125.3 720.5L1130.3 719.6L1135.4 718.7L1140.4 717.8L1145.4 716.8L1150.4 715.9L1155.4 715L1160.4 714L1165.5 713.1L1170.5 712.1L1175.5 711.2L1180.5 710.2L1185.5 709.3L1190.6 708.3L1195.6 707.4L1200.6 706.4L1205.6 705.5L1210.6 704.5L1215.6 703.5L1220.7 702.6L1225.7 701.6L1230.7 700.6L1235.7 699.6L1240.7 698.7L1245.8 697.7L1250.8 696.7L1255.8 695.7L1260.8 694.7L1265.8 693.7L1270.8 692.8L1275.9 691.8L1280.9 690.8L1285.9 689.8L1290.9 688.8L1295.9 687.8L1301 686.8L1306 685.7L1311 684.7L1316 683.7L1321 682.7L1326.1 681.7L1331.1 680.7L1336.1 679.6L1341.1 678.6L1346.1 677.6L1351.1 676.6L1356.2 675.5L1361.2 674.5L1366.2 673.5L1371.2 672.4L1376.2 671.4L1381.3 670.3L1386.3 669.3L1391.3 668.2L1396.3 667.2L1401.3 666.1L1406.3 665.1L1411.4 664L1416.4 663L1421.4 661.9L1426.4 660.8L1431.4 659.8L1436.5 658.7L1441.5 657.6L1446.5 656.5L1451.5 655.5L1456.5 654.4L1461.5 653.3L1466.6 652.2L1471.6 651.1L1476.6 650L1481.6 648.9L1486.6 647.8L1491.7 646.8L1496.7 645.7L1501.7 644.6L1506.7 643.4L1511.7 642.3L1516.8 641.2L1521.8 640.1L1526.8 639L1531.8 637.9L1536.8 636.8L1541.8 635.7L1546.9 634.5L1551.9 633.4L1556.9 632.3L1561.9 631.1L1566.9 630L1572 628.9L1577 627.7L1582 626.6L1587 625.5L1592 624.3L1597 623.2L1602.1 622L1607.1 620.9L1612.1 619.7" fill="none" stroke="#0000ff" stroke-width="8.9" stroke-linecap="round" stroke-linejoin="round" stroke-dasharray="1.5 40.38" stroke-dashoffset="0.48"/>
</g>
<text transform="translate(302 1234.8) scale(1 1.035)" font-size="74.2" text-anchor="end" fill="#000">0</text>
<text transform="translate(302 945.4) scale(1 1.035)" font-size="74.2" text-anchor="end" fill="#000">50</text>
<text transform="translate(302 656) scale(1 1.035)" font-size="74.2" text-anchor="end" fill="#000">100</text>
<text transform="translate(302 366.7) scale(1 1.035)" font-size="74.2" text-anchor="end" fill="#000">150</text>
<text transform="translate(302 77.3) scale(1 1.035)" font-size="74.2" text-anchor="end" fill="#000">200</text>
<text transform="translate(358 1327.4) scale(1 1.035)" font-size="74.2" text-anchor="middle" fill="#000">0</text>
<text transform="translate(985.3 1327.4) scale(1 1.035)" font-size="74.2" text-anchor="middle" fill="#000">5</text>
<text transform="translate(1612.6 1327.4) scale(1 1.035)" font-size="74.2" text-anchor="middle" fill="#000">10</text>
<text transform="translate(2239.9 1327.4) scale(1 1.035)" font-size="74.2" text-anchor="middle" fill="#000">15</text>
<text transform="translate(99 982.6) rotate(-90) scale(1 1.025)" font-size="98.6" fill="#000">Energy (meV)</text>
<text transform="translate(1127.4 1402.8) scale(1.13 0.98)" font-size="98.6" fill="#000">z</text>
<text transform="translate(1179.2 1435.8) scale(1 1.04)" font-size="87" fill="#000">0</text>
<text transform="translate(1254.4 1402.8) scale(1 1.01)" font-size="98.6" fill="#000">(nm)</text>
</g>
<g id="panel-b">
<path d="M342 1528H2241V2696H342Z" fill="none" stroke="#000" stroke-width="8" stroke-linejoin="round"/>
<path d="M342 2696H308M342 2550H325.4M342 2404H308M342 2258H325.4M342 2112H308M342 1966H325.4M342 1820H308M342 1674H325.4M342 1528H308M342 2696V2730M658.5 2696V2712.6M975 2696V2730M1291.5 2696V2712.6M1608 2696V2730M1924.5 2696V2712.6M2241 2696V2730" fill="none" stroke="#000" stroke-width="8" stroke-linecap="round"/>
<clipPath id="clip-b"><rect x="342" y="1528" width="1899" height="1168"/></clipPath>
<g clip-path="url(#clip-b)">
<path d="M342 2625.7L347 2625.6L352 2625.6L357 2625.5L362 2625.5L367.1 2625.4L372.1 2625.4L377.1 2625.4L382.1 2625.3L387.1 2625.3L392.1 2625.2L397.1 2625.2L402.1 2625.1L407.1 2625.1L412.1 2625L417.2 2625L422.2 2624.9L427.2 2624.9L432.2 2624.9L437.2 2624.8L442.2 2624.8L447.2 2624.7L452.2 2624.7L457.2 2624.6L462.3 2624.6L467.3 2624.5L472.3 2624.5L477.3 2624.4L482.3 2624.4L487.3 2624.4L492.3 2624.3L497.3 2624.3L502.3 2624.2L507.3 2624.2L512.4 2624.1L517.4 2624.1L522.4 2624L527.4 2624L532.4 2623.9L537.4 2623.9L542.4 2623.8L547.4 2623.8L552.4 2623.8L557.5 2623.7L562.5 2623.7L567.5 2623.6L572.5 2623.6L577.5 2623.5L582.5 2623.5L587.5 2623.4L592.5 2623.4L597.5 2623.3L602.5 2623.3L607.6 2623.2L612.6 2623.2L617.6 2623.1L622.6 2623.1L627.6 2623L632.6 2623L637.6 2623L642.6 2622.9L647.6 2622.9L652.7 2622.8L657.7 2622.8L662.7 2622.7L667.7 2622.7L672.7 2622.6L677.7 2622.6L682.7 2622.5L687.7 2622.5L692.7 2622.4L697.7 2622.4L702.8 2622.3L707.8 2622.3L712.8 2622.2L717.8 2622.2L722.8 2622.1L727.8 2622.1L732.8 2622L737.8 2622L742.8 2621.9L747.9 2621.9L752.9 2621.8L757.9 2621.8L762.9 2621.7L767.9 2621.7L772.9 2621.6L777.9 2621.6L782.9 2621.5L787.9 2621.5L792.9 2621.5L798 2621.4L803 2621.4L808 2621.3L813 2621.3L818 2621.2L823 2621.2L828 2621.1L833 2621.1L838 2621L843.1 2621L848.1 2620.9L853.1 2620.9L858.1 2620.8L863.1 2620.8L868.1 2620.7L873.1 2620.7L878.1 2620.6L883.1 2620.6L888.2 2620.5L893.2 2620.5L898.2 2620.4L903.2 2620.4L908.2 2620.3L913.2 2620.3L918.2 2620.2L923.2 2620.2L928.2 2620.1L933.2 2620.1L938.3 2620L943.3 2620L948.3 2619.9L953.3 2619.9L958.3 2619.8L963.3 2619.8L968.3 2619.7L973.3 2619.7L978.3 2619.6L983.4 2619.5L988.4 2619.5L993.4 2619.4L998.4 2619.4L1003.4 2619.3L1008.4 2619.3L1013.4 2619.2L1018.4 2619.2L1023.4 2619.1L1028.4 2619.1L1033.5 2619L1038.5 2619L1043.5 2618.9L1048.5 2618.9L1053.5 2618.8L1058.5 2618.8L1063.5 2618.7L1068.5 2618.7L1073.5 2618.6L1078.6 2618.6L1083.6 2618.5L1088.6 2618.5L1093.6 2618.4L1098.6 2618.4L1103.6 2618.3L1108.6 2618.3L1113.6 2618.2L1118.6 2618.2L1123.6 2618.1L1128.7 2618.1L1133.7 2618L1138.7 2618L1143.7 2617.9L1148.7 2617.9L1153.7 2617.8L1158.7 2617.7L1163.7 2617.7L1168.7 2617.6L1173.8 2617.6L1178.8 2617.5L1183.8 2617.5L1188.8 2617.4L1193.8 2617.4L1198.8 2617.3L1203.8 2617.3L1208.8 2617.2L1213.8 2617.2L1218.8 2617.1L1223.9 2617.1L1228.9 2617L1233.9 2617L1238.9 2616.9L1243.9 2616.9L1248.9 2616.8L1253.9 2616.8L1258.9 2616.7L1263.9 2616.6L1269 2616.6L1274 2616.5L1279 2616.5L1284 2616.4L1289 2616.4L1294 2616.3L1299 2616.3L1304 2616.2L1309 2616.2L1314 2616.1L1319.1 2616.1L1324.1 2616L1329.1 2616L1334.1 2615.9L1339.1 2615.9L1344.1 2615.8L1349.1 2615.7L1354.1 2615.7L1359.1 2615.6L1364.2 2615.6L1369.2 2615.5L1374.2 2615.5L1379.2 2615.4L1384.2 2615.4L1389.2 2615.3L1394.2 2615.3L1399.2 2615.2L1404.2 2615.2L1409.2 2615.1L1414.3 2615.1L1419.3 2615L1424.3 2614.9L1429.3 2614.9L1434.3 2614.8L1439.3 2614.8L1444.3 2614.7L1449.3 2614.7L1454.3 2614.6L1459.4 2614.6L1464.4 2614.5L1469.4 2614.5L1474.4 2614.4L1479.4 2614.4L1484.4 2614.3L1489.4 2614.3L1494.4 2614.2L1499.4 2614.1L1504.4 2614.1L1509.5 2614L1514.5 2614L1519.5 2613.9L1524.5 2613.9L1529.5 2613.8L1534.5 2613.8L1539.5 2613.7L1544.5 2613.7L1549.5 2613.6L1554.6 2613.6L1559.6 2613.5L1564.6 2613.4L1569.6 2613.4L1574.6 2613.3L1579.6 2613.3L1584.6 2613.2L1589.6 2613.2L1594.6 2613.1L1599.6 2613.1L1604.7 2613L1609.7 2613L1614.7 2612.9L1619.7 2612.9L1624.7 2612.8L1629.7 2612.7L1634.7 2612.7L1639.7 2612.6L1644.7 2612.6L1649.8 2612.5L1654.8 2612.5L1659.8 2612.4L1664.8 2612.4L1669.8 2612.3L1674.8 2612.3L1679.8 2612.2L1684.8 2612.1L1689.8 2612.1L1694.8 2612L1699.9 2612L1704.9 2611.9L1709.9 2611.9L1714.9 2611.8L1719.9 2611.8L1724.9 2611.7L1729.9 2611.7L1734.9 2611.6L1739.9 2611.6L1745 2611.5L1750 2611.4L1755 2611.4L1760 2611.3L1765 2611.3L1770 2611.2L1775 2611.2L1780 2611.1L1785 2611.1L1790.1 2611L1795.1 2611L1800.1 2610.9L1805.1 2610.8L1810.1 2610.8L1815.1 2610.7L1820.1 2610.7L1825.1 2610.6L1830.1 2610.6L1835.1 2610.5L1840.2 2610.5L1845.2 2610.4L1850.2 2610.4L1855.2 2610.3L1860.2 2610.3L1865.2 2610.2L1870.2 2610.1L1875.2 2610.1L1880.2 2610L1885.3 2610L1890.3 2609.9L1895.3 2609.9L1900.3 2609.8L1905.3 2609.8L1910.3 2609.7L1915.3 2609.7L1920.3 2609.6L1925.3 2609.5L1930.3 2609.5L1935.4 2609.4L1940.4 2609.4L1945.4 2609.3L1950.4 2609.3L1955.4 2609.2L1960.4 2609.2L1965.4 2609.1L1970.4 2609.1L1975.4 2609L1980.5 2608.9L1985.5 2608.9L1990.5 2608.8L1995.5 2608.8L2000.5 2608.7L2005.5 2608.7L2010.5 2608.6L2015.5 2608.6L2020.5 2608.5L2025.5 2608.5L2030.6 2608.4L2035.6 2608.4L2040.6 2608.3L2045.6 2608.2L2050.6 2608.2L2055.6 2608.1L2060.6 2608.1L2065.6 2608L2070.6 2608L2075.7 2607.9L2080.7 2607.9L2085.7 2607.8L2090.7 2607.8L2095.7 2607.7L2100.7 2607.7L2105.7 2607.6L2110.7 2607.5L2115.7 2607.5L2120.7 2607.4L2125.8 2607.4L2130.8 2607.3L2135.8 2607.3L2140.8 2607.2L2145.8 2607.2L2150.8 2607.1L2155.8 2607.1L2160.8 2607L2165.8 2607L2170.9 2606.9L2175.9 2606.8L2180.9 2606.8L2185.9 2606.7L2190.9 2606.7L2195.9 2606.6L2200.9 2606.6L2205.9 2606.5L2210.9 2606.5L2215.9 2606.4L2221 2606.4L2226 2606.3L2231 2606.3L2236 2606.2L2241 2606.1" fill="none" stroke="#000000" stroke-width="8.9" stroke-linecap="butt" stroke-linejoin="round"/>
<path d="M342 2490.6L347 2490.4L352 2490.2L357 2490.1L362 2489.9L367.1 2489.7L372.1 2489.5L377.1 2489.4L382.1 2489.2L387.1 2489L392.1 2488.8L397.1 2488.7L402.1 2488.5L407.1 2488.3L412.1 2488.1L417.2 2488L422.2 2487.8L427.2 2487.6L432.2 2487.4L437.2 2487.3L442.2 2487.1L447.2 2486.9L452.2 2486.7L457.2 2486.6L462.3 2486.4L467.3 2486.2L472.3 2486.1L477.3 2485.9L482.3 2485.7L487.3 2485.5L492.3 2485.4L497.3 2485.2L502.3 2485L507.3 2484.9L512.4 2484.7L517.4 2484.5L522.4 2484.4L527.4 2484.2L532.4 2484L537.4 2483.9L542.4 2483.7L547.4 2483.5L552.4 2483.3L557.5 2483.2L562.5 2483L567.5 2482.8L572.5 2482.7L577.5 2482.5L582.5 2482.3L587.5 2482.2L592.5 2482L597.5 2481.8L602.5 2481.7L607.6 2481.5L612.6 2481.3L617.6 2481.2L622.6 2481L627.6 2480.8L632.6 2480.7L637.6 2480.5L642.6 2480.3L647.6 2480.2L652.7 2480L657.7 2479.8L662.7 2479.7L667.7 2479.5L672.7 2479.4L677.7 2479.2L682.7 2479L687.7 2478.9L692.7 2478.7L697.7 2478.5L702.8 2478.4L707.8 2478.2L712.8 2478L717.8 2477.9L722.8 2477.7L727.8 2477.6L732.8 2477.4L737.8 2477.2L742.8 2477.1L747.9 2476.9L752.9 2476.7L757.9 2476.6L762.9 2476.4L767.9 2476.3L772.9 2476.1L777.9 2475.9L782.9 2475.8L787.9 2475.6L792.9 2475.5L798 2475.3L803 2475.1L808 2475L813 2474.8L818 2474.6L823 2474.5L828 2474.3L833 2474.2L838 2474L843.1 2473.8L848.1 2473.7L853.1 2473.5L858.1 2473.4L863.1 2473.2L868.1 2473.1L873.1 2472.9L878.1 2472.7L883.1 2472.6L888.2 2472.4L893.2 2472.3L898.2 2472.1L903.2 2471.9L908.2 2471.8L913.2 2471.6L918.2 2471.5L923.2 2471.3L928.2 2471.2L933.2 2471L938.3 2470.8L943.3 2470.7L948.3 2470.5L953.3 2470.4L958.3 2470.2L963.3 2470.1L968.3 2469.9L973.3 2469.7L978.3 2469.6L983.4 2469.4L988.4 2469.3L993.4 2469.1L998.4 2469L1003.4 2468.8L1008.4 2468.6L1013.4 2468.5L1018.4 2468.3L1023.4 2468.2L1028.4 2468L1033.5 2467.9L1038.5 2467.7L1043.5 2467.6L1048.5 2467.4L1053.5 2467.2L1058.5 2467.1L1063.5 2466.9L1068.5 2466.8L1073.5 2466.6L1078.6 2466.5L1083.6 2466.3L1088.6 2466.2L1093.6 2466L1098.6 2465.8L1103.6 2465.7L1108.6 2465.5L1113.6 2465.4L1118.6 2465.2L1123.6 2465.1L1128.7 2464.9L1133.7 2464.8L1138.7 2464.6L1143.7 2464.5L1148.7 2464.3L1153.7 2464.2L1158.7 2464L1163.7 2463.8L1168.7 2463.7L1173.8 2463.5L1178.8 2463.4L1183.8 2463.2L1188.8 2463.1L1193.8 2462.9L1198.8 2462.8L1203.8 2462.6L1208.8 2462.5L1213.8 2462.3L1218.8 2462.2L1223.9 2462L1228.9 2461.9L1233.9 2461.7L1238.9 2461.6L1243.9 2461.4L1248.9 2461.2L1253.9 2461.1L1258.9 2460.9L1263.9 2460.8L1269 2460.6L1274 2460.5L1279 2460.3L1284 2460.2L1289 2460L1294 2459.9L1299 2459.7L1304 2459.6L1309 2459.4L1314 2459.3L1319.1 2459.1L1324.1 2459L1329.1 2458.8L1334.1 2458.7L1339.1 2458.5L1344.1 2458.4L1349.1 2458.2L1354.1 2458.1L1359.1 2457.9L1364.2 2457.8L1369.2 2457.6L1374.2 2457.5L1379.2 2457.3L1384.2 2457.1L1389.2 2457L1394.2 2456.8L1399.2 2456.7L1404.2 2456.5L1409.2 2456.4L1414.3 2456.2L1419.3 2456.1L1424.3 2455.9L1429.3 2455.8L1434.3 2455.6L1439.3 2455.5L1444.3 2455.3L1449.3 2455.2L1454.3 2455L1459.4 2454.9L1464.4 2454.7L1469.4 2454.6L1474.4 2454.4L1479.4 2454.3L1484.4 2454.1L1489.4 2454L1494.4 2453.8L1499.4 2453.7L1504.4 2453.5L1509.5 2453.4L1514.5 2453.2L1519.5 2453.1L1524.5 2452.9L1529.5 2452.8L1534.5 2452.6L1539.5 2452.5L1544.5 2452.3L1549.5 2452.2L1554.6 2452L1559.6 2451.9L1564.6 2451.7L1569.6 2451.6L1574.6 2451.4L1579.6 2451.3L1584.6 2451.1L1589.6 2451L1594.6 2450.8L1599.6 2450.7L1604.7 2450.5L1609.7 2450.4L1614.7 2450.2L1619.7 2450.1L1624.7 2449.9L1629.7 2449.8L1634.7 2449.6L1639.7 2449.5L1644.7 2449.3L1649.8 2449.2L1654.8 2449L1659.8 2448.9L1664.8 2448.7L1669.8 2448.6L1674.8 2448.4L1679.8 2448.2L1684.8 2448.1L1689.8 2447.9L1694.8 2447.8L1699.9 2447.6L1704.9 2447.5L1709.9 2447.3L1714.9 2447.2L1719.9 2447L1724.9 2446.9L1729.9 2446.7L1734.9 2446.6L1739.9 2446.4L1745 2446.3L1750 2446.1L1755 2446L1760 2445.8L1765 2445.7L1770 2445.5L1775 2445.4L1780 2445.2L1785 2445.1L1790.1 2444.9L1795.1 2444.8L1800.1 2444.6L1805.1 2444.5L1810.1 2444.3L1815.1 2444.2L1820.1 2444L1825.1 2443.9L1830.1 2443.7L1835.1 2443.6L1840.2 2443.4L1845.2 2443.3L1850.2 2443.1L1855.2 2442.9L1860.2 2442.8L1865.2 2442.6L1870.2 2442.5L1875.2 2442.3L1880.2 2442.2L1885.3 2442L1890.3 2441.9L1895.3 2441.7L1900.3 2441.6L1905.3 2441.4L1910.3 2441.3L1915.3 2441.1L1920.3 2441L1925.3 2440.8L1930.3 2440.7L1935.4 2440.5L1940.4 2440.4L1945.4 2440.2L1950.4 2440L1955.4 2439.9L1960.4 2439.7L1965.4 2439.6L1970.4 2439.4L1975.4 2439.3L1980.5 2439.1L1985.5 2439L1990.5 2438.8L1995.5 2438.7L2000.5 2438.5L2005.5 2438.4L2010.5 2438.2L2015.5 2438L2020.5 2437.9L2025.5 2437.7L2030.6 2437.6L2035.6 2437.4L2040.6 2437.3L2045.6 2437.1L2050.6 2437L2055.6 2436.8L2060.6 2436.7L2065.6 2436.5L2070.6 2436.3L2075.7 2436.2L2080.7 2436L2085.7 2435.9L2090.7 2435.7L2095.7 2435.6L2100.7 2435.4L2105.7 2435.3L2110.7 2435.1L2115.7 2434.9L2120.7 2434.8L2125.8 2434.6L2130.8 2434.5L2135.8 2434.3L2140.8 2434.2L2145.8 2434L2150.8 2433.9L2155.8 2433.7L2160.8 2433.5L2165.8 2433.4L2170.9 2433.2L2175.9 2433.1L2180.9 2432.9L2185.9 2432.8L2190.9 2432.6L2195.9 2432.4L2200.9 2432.3L2205.9 2432.1L2210.9 2432L2215.9 2431.8L2221 2431.7L2226 2431.5L2231 2431.3L2236 2431.2L2241 2431" fill="none" stroke="#ff0000" stroke-width="8.9" stroke-linecap="butt" stroke-linejoin="round"/>
<path d="M342 2359.9L347 2359.6L352 2359.3L357 2359.1L362 2358.8L367.1 2358.5L372.1 2358.2L377.1 2357.9L382.1 2357.6L387.1 2357.3L392.1 2357L397.1 2356.8L402.1 2356.5L407.1 2356.2L412.1 2355.9L417.2 2355.6L422.2 2355.3L427.2 2355L432.2 2354.8L437.2 2354.5L442.2 2354.2L447.2 2353.9L452.2 2353.6L457.2 2353.3L462.3 2353.1L467.3 2352.8L472.3 2352.5L477.3 2352.2L482.3 2351.9L487.3 2351.6L492.3 2351.4L497.3 2351.1L502.3 2350.8L507.3 2350.5L512.4 2350.2L517.4 2349.9L522.4 2349.7L527.4 2349.4L532.4 2349.1L537.4 2348.8L542.4 2348.5L547.4 2348.3L552.4 2348L557.5 2347.7L562.5 2347.4L567.5 2347.1L572.5 2346.9L577.5 2346.6L582.5 2346.3L587.5 2346L592.5 2345.7L597.5 2345.5L602.5 2345.2L607.6 2344.9L612.6 2344.6L617.6 2344.3L622.6 2344.1L627.6 2343.8L632.6 2343.5L637.6 2343.2L642.6 2342.9L647.6 2342.7L652.7 2342.4L657.7 2342.1L662.7 2341.8L667.7 2341.6L672.7 2341.3L677.7 2341L682.7 2340.7L687.7 2340.5L692.7 2340.2L697.7 2339.9L702.8 2339.6L707.8 2339.4L712.8 2339.1L717.8 2338.8L722.8 2338.5L727.8 2338.3L732.8 2338L737.8 2337.7L742.8 2337.4L747.9 2337.2L752.9 2336.9L757.9 2336.6L762.9 2336.3L767.9 2336.1L772.9 2335.8L777.9 2335.5L782.9 2335.3L787.9 2335L792.9 2334.7L798 2334.4L803 2334.2L808 2333.9L813 2333.6L818 2333.3L823 2333.1L828 2332.8L833 2332.5L838 2332.3L843.1 2332L848.1 2331.7L853.1 2331.5L858.1 2331.2L863.1 2330.9L868.1 2330.6L873.1 2330.4L878.1 2330.1L883.1 2329.8L888.2 2329.6L893.2 2329.3L898.2 2329L903.2 2328.8L908.2 2328.5L913.2 2328.2L918.2 2328L923.2 2327.7L928.2 2327.4L933.2 2327.1L938.3 2326.9L943.3 2326.6L948.3 2326.3L953.3 2326.1L958.3 2325.8L963.3 2325.5L968.3 2325.3L973.3 2325L978.3 2324.7L983.4 2324.5L988.4 2324.2L993.4 2323.9L998.4 2323.7L1003.4 2323.4L1008.4 2323.1L1013.4 2322.9L1018.4 2322.6L1023.4 2322.3L1028.4 2322.1L1033.5 2321.8L1038.5 2321.6L1043.5 2321.3L1048.5 2321L1053.5 2320.8L1058.5 2320.5L1063.5 2320.2L1068.5 2320L1073.5 2319.7L1078.6 2319.4L1083.6 2319.2L1088.6 2318.9L1093.6 2318.6L1098.6 2318.4L1103.6 2318.1L1108.6 2317.9L1113.6 2317.6L1118.6 2317.3L1123.6 2317.1L1128.7 2316.8L1133.7 2316.5L1138.7 2316.3L1143.7 2316L1148.7 2315.8L1153.7 2315.5L1158.7 2315.2L1163.7 2315L1168.7 2314.7L1173.8 2314.5L1178.8 2314.2L1183.8 2313.9L1188.8 2313.7L1193.8 2313.4L1198.8 2313.1L1203.8 2312.9L1208.8 2312.6L1213.8 2312.4L1218.8 2312.1L1223.9 2311.8L1228.9 2311.6L1233.9 2311.3L1238.9 2311.1L1243.9 2310.8L1248.9 2310.5L1253.9 2310.3L1258.9 2310L1263.9 2309.8L1269 2309.5L1274 2309.3L1279 2309L1284 2308.7L1289 2308.5L1294 2308.2L1299 2308L1304 2307.7L1309 2307.4L1314 2307.2L1319.1 2306.9L1324.1 2306.7L1329.1 2306.4L1334.1 2306.2L1339.1 2305.9L1344.1 2305.6L1349.1 2305.4L1354.1 2305.1L1359.1 2304.9L1364.2 2304.6L1369.2 2304.4L1374.2 2304.1L1379.2 2303.8L1384.2 2303.6L1389.2 2303.3L1394.2 2303.1L1399.2 2302.8L1404.2 2302.6L1409.2 2302.3L1414.3 2302.1L1419.3 2301.8L1424.3 2301.5L1429.3 2301.3L1434.3 2301L1439.3 2300.8L1444.3 2300.5L1449.3 2300.3L1454.3 2300L1459.4 2299.8L1464.4 2299.5L1469.4 2299.3L1474.4 2299L1479.4 2298.7L1484.4 2298.5L1489.4 2298.2L1494.4 2298L1499.4 2297.7L1504.4 2297.5L1509.5 2297.2L1514.5 2297L1519.5 2296.7L1524.5 2296.5L1529.5 2296.2L1534.5 2296L1539.5 2295.7L1544.5 2295.4L1549.5 2295.2L1554.6 2294.9L1559.6 2294.7L1564.6 2294.4L1569.6 2294.2L1574.6 2293.9L1579.6 2293.7L1584.6 2293.4L1589.6 2293.2L1594.6 2292.9L1599.6 2292.7L1604.7 2292.4L1609.7 2292.2L1614.7 2291.9L1619.7 2291.7L1624.7 2291.4L1629.7 2291.2L1634.7 2290.9L1639.7 2290.7L1644.7 2290.4L1649.8 2290.2L1654.8 2289.9L1659.8 2289.7L1664.8 2289.4L1669.8 2289.2L1674.8 2288.9L1679.8 2288.7L1684.8 2288.4L1689.8 2288.1L1694.8 2287.9L1699.9 2287.6L1704.9 2287.4L1709.9 2287.1L1714.9 2286.9L1719.9 2286.6L1724.9 2286.4L1729.9 2286.1L1734.9 2285.9L1739.9 2285.6L1745 2285.4L1750 2285.2L1755 2284.9L1760 2284.7L1765 2284.4L1770 2284.2L1775 2283.9L1780 2283.7L1785 2283.4L1790.1 2283.2L1795.1 2282.9L1800.1 2282.7L1805.1 2282.4L1810.1 2282.2L1815.1 2281.9L1820.1 2281.7L1825.1 2281.4L1830.1 2281.2L1835.1 2280.9L1840.2 2280.7L1845.2 2280.4L1850.2 2280.2L1855.2 2279.9L1860.2 2279.7L1865.2 2279.4L1870.2 2279.2L1875.2 2278.9L1880.2 2278.7L1885.3 2278.4L1890.3 2278.2L1895.3 2277.9L1900.3 2277.7L1905.3 2277.5L1910.3 2277.2L1915.3 2277L1920.3 2276.7L1925.3 2276.5L1930.3 2276.2L1935.4 2276L1940.4 2275.7L1945.4 2275.5L1950.4 2275.2L1955.4 2275L1960.4 2274.7L1965.4 2274.5L1970.4 2274.2L1975.4 2274L1980.5 2273.8L1985.5 2273.5L1990.5 2273.3L1995.5 2273L2000.5 2272.8L2005.5 2272.5L2010.5 2272.3L2015.5 2272L2020.5 2271.8L2025.5 2271.5L2030.6 2271.3L2035.6 2271L2040.6 2270.8L2045.6 2270.6L2050.6 2270.3L2055.6 2270.1L2060.6 2269.8L2065.6 2269.6L2070.6 2269.3L2075.7 2269.1L2080.7 2268.8L2085.7 2268.6L2090.7 2268.3L2095.7 2268.1L2100.7 2267.9L2105.7 2267.6L2110.7 2267.4L2115.7 2267.1L2120.7 2266.9L2125.8 2266.6L2130.8 2266.4L2135.8 2266.1L2140.8 2265.9L2145.8 2265.6L2150.8 2265.4L2155.8 2265.2L2160.8 2264.9L2165.8 2264.7L2170.9 2264.4L2175.9 2264.2L2180.9 2263.9L2185.9 2263.7L2190.9 2263.4L2195.9 2263.2L2200.9 2263L2205.9 2262.7L2210.9 2262.5L2215.9 2262.2L2221 2262L2226 2261.7L2231 2261.5L2236 2261.3L2241 2261" fill="none" stroke="#0000ff" stroke-width="8.9" stroke-linecap="butt" stroke-linejoin="round"/>
<path d="M342 2551L347 2550.9L352 2550.7L357 2550.6L362 2550.4L367.1 2550.2L372.1 2550.1L377.1 2549.9L382.1 2549.7L387.1 2549.6L392.1 2549.4L397.1 2549.2L402.1 2549.1L407.1 2548.9L412.1 2548.7L417.2 2548.6L422.2 2548.4L427.2 2548.2L432.2 2548.1L437.2 2547.9L442.2 2547.7L447.2 2547.5L452.2 2547.4L457.2 2547.2L462.3 2547L467.3 2546.8L472.3 2546.7L477.3 2546.5L482.3 2546.3L487.3 2546.1L492.3 2545.9L497.3 2545.8L502.3 2545.6L507.3 2545.4L512.4 2545.2L517.4 2545L522.4 2544.8L527.4 2544.6L532.4 2544.4L537.4 2544.2L542.4 2544L547.4 2543.9L552.4 2543.7L557.5 2543.5L562.5 2543.3L567.5 2543.1L572.5 2542.9L577.5 2542.7L582.5 2542.4L587.5 2542.2L592.5 2542L597.5 2541.8L602.5 2541.6L607.6 2541.4L612.6 2541.2L617.6 2541L622.6 2540.8L627.6 2540.5L632.6 2540.3L637.6 2540.1L642.6 2539.9L647.6 2539.7L652.7 2539.4L657.7 2539.2L662.7 2539L667.7 2538.7L672.7 2538.5L677.7 2538.3L682.7 2538L687.7 2537.8L692.7 2537.6L697.7 2537.3L702.8 2537.1L707.8 2536.8L712.8 2536.6L717.8 2536.3L722.8 2536.1L727.8 2535.8L732.8 2535.6L737.8 2535.3L742.8 2535.1L747.9 2534.8L752.9 2534.5L757.9 2534.3L762.9 2534L767.9 2533.7L772.9 2533.5L777.9 2533.2L782.9 2532.9L787.9 2532.7L792.9 2532.4L798 2532.1L803 2531.8L808 2531.5L813 2531.2L818 2531L823 2530.7L828 2530.4L833 2530.1L838 2529.8L843.1 2529.5L848.1 2529.2L853.1 2528.9L858.1 2528.6L863.1 2528.2L868.1 2527.9L873.1 2527.6L878.1 2527.3L883.1 2527L888.2 2526.7L893.2 2526.3L898.2 2526L903.2 2525.7L908.2 2525.4L913.2 2525L918.2 2524.7L923.2 2524.3L928.2 2524L933.2 2523.7L938.3 2523.3L943.3 2523L948.3 2522.6L953.3 2522.2L958.3 2521.9L963.3 2521.5L968.3 2521.2L973.3 2520.8L978.3 2520.4L983.4 2520.1L988.4 2519.7L993.4 2519.3L998.4 2518.9L1003.4 2518.5L1008.4 2518.2L1013.4 2517.8L1018.4 2517.4L1023.4 2517L1028.4 2516.6L1033.5 2516.2L1038.5 2515.8L1043.5 2515.4L1048.5 2515L1053.5 2514.5L1058.5 2514.1L1063.5 2513.7L1068.5 2513.3L1073.5 2512.9L1078.6 2512.4L1083.6 2512L1088.6 2511.6L1093.6 2511.1L1098.6 2510.7L1103.6 2510.2L1108.6 2509.8L1113.6 2509.3L1118.6 2508.9L1123.6 2508.4L1128.7 2508L1133.7 2507.5L1138.7 2507L1143.7 2506.6L1148.7 2506.1L1153.7 2505.6L1158.7 2505.1L1163.7 2504.6L1168.7 2504.2L1173.8 2503.7L1178.8 2503.2L1183.8 2502.7L1188.8 2502.2L1193.8 2501.7L1198.8 2501.1L1203.8 2500.6L1208.8 2500.1L1213.8 2499.6L1218.8 2499.1L1223.9 2498.5L1228.9 2498L1233.9 2497.5L1238.9 2496.9L1243.9 2496.4L1248.9 2495.9L1253.9 2495.3L1258.9 2494.7L1263.9 2494.2L1269 2493.6L1274 2493.1L1279 2492.5L1284 2491.9L1289 2491.3L1294 2490.8L1299 2490.2L1304 2489.6L1309 2489L1314 2488.4L1319.1 2487.8L1324.1 2487.2L1329.1 2486.6L1334.1 2486L1339.1 2485.4L1344.1 2484.7L1349.1 2484.1L1354.1 2483.5L1359.1 2482.8L1364.2 2482.2L1369.2 2481.6L1374.2 2480.9L1379.2 2480.3L1384.2 2479.6L1389.2 2479L1394.2 2478.3L1399.2 2477.6L1404.2 2477L1409.2 2476.3L1414.3 2475.6L1419.3 2474.9L1424.3 2474.2L1429.3 2473.5L1434.3 2472.9L1439.3 2472.2L1444.3 2471.5L1449.3 2470.7L1454.3 2470L1459.4 2469.3L1464.4 2468.6L1469.4 2467.9L1474.4 2467.2L1479.4 2466.4L1484.4 2465.7L1489.4 2465L1494.4 2464.2L1499.4 2463.5L1504.4 2462.7L1509.5 2462L1514.5 2461.2L1519.5 2460.5L1524.5 2459.7L1529.5 2458.9L1534.5 2458.2L1539.5 2457.4L1544.5 2456.6L1549.5 2455.8L1554.6 2455L1559.6 2454.2L1564.6 2453.4L1569.6 2452.7L1574.6 2451.9L1579.6 2451L1584.6 2450.2L1589.6 2449.4L1594.6 2448.6L1599.6 2447.8L1604.7 2447L1609.7 2446.1L1614.7 2445.3L1619.7 2444.5L1624.7 2443.7L1629.7 2442.8L1634.7 2442L1639.7 2441.1L1644.7 2440.3L1649.8 2439.4L1654.8 2438.6L1659.8 2437.7L1664.8 2436.9L1669.8 2436L1674.8 2435.1L1679.8 2434.2L1684.8 2433.4L1689.8 2432.5L1694.8 2431.6L1699.9 2430.7L1704.9 2429.8L1709.9 2428.9L1714.9 2428L1719.9 2427.2L1724.9 2426.3L1729.9 2425.3L1734.9 2424.4L1739.9 2423.5L1745 2422.6L1750 2421.7L1755 2420.8L1760 2419.9L1765 2418.9L1770 2418L1775 2417.1L1780 2416.1L1785 2415.2L1790.1 2414.3L1795.1 2413.3L1800.1 2412.4L1805.1 2411.4L1810.1 2410.5L1815.1 2409.5L1820.1 2408.6L1825.1 2407.6L1830.1 2406.6L1835.1 2405.7L1840.2 2404.7L1845.2 2403.7L1850.2 2402.7L1855.2 2401.8L1860.2 2400.8L1865.2 2399.8L1870.2 2398.8L1875.2 2397.8L1880.2 2396.8L1885.3 2395.8L1890.3 2394.8L1895.3 2393.8L1900.3 2392.8L1905.3 2391.8L1910.3 2390.8L1915.3 2389.8L1920.3 2388.8L1925.3 2387.8L1930.3 2386.8L1935.4 2385.8L1940.4 2384.7L1945.4 2383.7L1950.4 2382.7L1955.4 2381.7L1960.4 2380.6L1965.4 2379.6L1970.4 2378.6L1975.4 2377.5L1980.5 2376.5L1985.5 2375.5L1990.5 2374.4L1995.5 2373.4L2000.5 2372.3L2005.5 2371.3L2010.5 2370.2L2015.5 2369.2L2020.5 2368.1L2025.5 2367.1L2030.6 2366L2035.6 2365L2040.6 2363.9L2045.6 2362.8L2050.6 2361.8L2055.6 2360.7L2060.6 2359.6L2065.6 2358.6L2070.6 2357.5L2075.7 2356.4L2080.7 2355.4L2085.7 2354.3L2090.7 2353.2L2095.7 2352.1L2100.7 2351.1L2105.7 2350L2110.7 2348.9L2115.7 2347.8L2120.7 2346.8L2125.8 2345.7L2130.8 2344.6L2135.8 2343.5L2140.8 2342.4L2145.8 2341.3L2150.8 2340.2L2155.8 2339.2L2160.8 2338.1L2165.8 2337L2170.9 2335.9L2175.9 2334.8L2180.9 2333.7L2185.9 2332.6L2190.9 2331.5L2195.9 2330.4L2200.9 2329.3L2205.9 2328.2L2210.9 2327.1L2215.9 2326L2221 2324.9L2226 2323.8L2231 2322.7L2236 2321.6L2241 2320.5" fill="none" stroke="#000000" stroke-width="8.9" stroke-linecap="round" stroke-linejoin="round" stroke-dasharray="25 38.15" stroke-dashoffset="-0.14"/>
<path d="M342 2270.7L347 2270.4L352 2270.1L357 2269.8L362 2269.5L367.1 2269.2L372.1 2268.9L377.1 2268.7L382.1 2268.4L387.1 2268.1L392.1 2267.8L397.1 2267.5L402.1 2267.2L407.1 2266.9L412.1 2266.6L417.2 2266.3L422.2 2266L427.2 2265.7L432.2 2265.4L437.2 2265.1L442.2 2264.8L447.2 2264.4L452.2 2264.1L457.2 2263.8L462.3 2263.5L467.3 2263.2L472.3 2262.9L477.3 2262.6L482.3 2262.3L487.3 2262L492.3 2261.6L497.3 2261.3L502.3 2261L507.3 2260.7L512.4 2260.4L517.4 2260L522.4 2259.7L527.4 2259.4L532.4 2259.1L537.4 2258.7L542.4 2258.4L547.4 2258.1L552.4 2257.7L557.5 2257.4L562.5 2257.1L567.5 2256.7L572.5 2256.4L577.5 2256L582.5 2255.7L587.5 2255.3L592.5 2255L597.5 2254.6L602.5 2254.3L607.6 2253.9L612.6 2253.6L617.6 2253.2L622.6 2252.9L627.6 2252.5L632.6 2252.1L637.6 2251.8L642.6 2251.4L647.6 2251L652.7 2250.7L657.7 2250.3L662.7 2249.9L667.7 2249.5L672.7 2249.1L677.7 2248.8L682.7 2248.4L687.7 2248L692.7 2247.6L697.7 2247.2L702.8 2246.8L707.8 2246.4L712.8 2246L717.8 2245.6L722.8 2245.2L727.8 2244.8L732.8 2244.3L737.8 2243.9L742.8 2243.5L747.9 2243.1L752.9 2242.7L757.9 2242.2L762.9 2241.8L767.9 2241.4L772.9 2240.9L777.9 2240.5L782.9 2240.1L787.9 2239.6L792.9 2239.2L798 2238.7L803 2238.2L808 2237.8L813 2237.3L818 2236.9L823 2236.4L828 2235.9L833 2235.4L838 2235L843.1 2234.5L848.1 2234L853.1 2233.5L858.1 2233L863.1 2232.5L868.1 2232L873.1 2231.5L878.1 2231L883.1 2230.5L888.2 2230L893.2 2229.5L898.2 2228.9L903.2 2228.4L908.2 2227.9L913.2 2227.4L918.2 2226.8L923.2 2226.3L928.2 2225.7L933.2 2225.2L938.3 2224.6L943.3 2224.1L948.3 2223.5L953.3 2222.9L958.3 2222.4L963.3 2221.8L968.3 2221.2L973.3 2220.6L978.3 2220.1L983.4 2219.5L988.4 2218.9L993.4 2218.3L998.4 2217.7L1003.4 2217.1L1008.4 2216.4L1013.4 2215.8L1018.4 2215.2L1023.4 2214.6L1028.4 2214L1033.5 2213.3L1038.5 2212.7L1043.5 2212L1048.5 2211.4L1053.5 2210.7L1058.5 2210.1L1063.5 2209.4L1068.5 2208.7L1073.5 2208.1L1078.6 2207.4L1083.6 2206.7L1088.6 2206L1093.6 2205.3L1098.6 2204.6L1103.6 2203.9L1108.6 2203.2L1113.6 2202.5L1118.6 2201.8L1123.6 2201.1L1128.7 2200.3L1133.7 2199.6L1138.7 2198.9L1143.7 2198.1L1148.7 2197.4L1153.7 2196.6L1158.7 2195.8L1163.7 2195.1L1168.7 2194.3L1173.8 2193.5L1178.8 2192.7L1183.8 2192L1188.8 2191.2L1193.8 2190.4L1198.8 2189.6L1203.8 2188.8L1208.8 2187.9L1213.8 2187.1L1218.8 2186.3L1223.9 2185.5L1228.9 2184.6L1233.9 2183.8L1238.9 2182.9L1243.9 2182.1L1248.9 2181.2L1253.9 2180.3L1258.9 2179.5L1263.9 2178.6L1269 2177.7L1274 2176.8L1279 2175.9L1284 2175L1289 2174.1L1294 2173.2L1299 2172.2L1304 2171.3L1309 2170.4L1314 2169.4L1319.1 2168.5L1324.1 2167.5L1329.1 2166.6L1334.1 2165.6L1339.1 2164.6L1344.1 2163.6L1349.1 2162.7L1354.1 2161.7L1359.1 2160.7L1364.2 2159.7L1369.2 2158.7L1374.2 2157.6L1379.2 2156.6L1384.2 2155.6L1389.2 2154.6L1394.2 2153.5L1399.2 2152.5L1404.2 2151.4L1409.2 2150.4L1414.3 2149.3L1419.3 2148.2L1424.3 2147.2L1429.3 2146.1L1434.3 2145L1439.3 2143.9L1444.3 2142.8L1449.3 2141.7L1454.3 2140.6L1459.4 2139.5L1464.4 2138.3L1469.4 2137.2L1474.4 2136.1L1479.4 2134.9L1484.4 2133.8L1489.4 2132.6L1494.4 2131.5L1499.4 2130.3L1504.4 2129.1L1509.5 2128L1514.5 2126.8L1519.5 2125.6L1524.5 2124.4L1529.5 2123.2L1534.5 2122L1539.5 2120.8L1544.5 2119.6L1549.5 2118.4L1554.6 2117.1L1559.6 2115.9L1564.6 2114.7L1569.6 2113.4L1574.6 2112.2L1579.6 2110.9L1584.6 2109.7L1589.6 2108.4L1594.6 2107.1L1599.6 2105.8L1604.7 2104.6L1609.7 2103.3L1614.7 2102L1619.7 2100.7L1624.7 2099.4L1629.7 2098.1L1634.7 2096.8L1639.7 2095.4L1644.7 2094.1L1649.8 2092.8L1654.8 2091.4L1659.8 2090.1L1664.8 2088.8L1669.8 2087.4L1674.8 2086.1L1679.8 2084.7L1684.8 2083.3L1689.8 2081.9L1694.8 2080.6L1699.9 2079.2L1704.9 2077.8L1709.9 2076.4L1714.9 2075L1719.9 2073.6L1724.9 2072.2L1729.9 2070.8L1734.9 2069.4L1739.9 2067.9L1745 2066.5L1750 2065.1L1755 2063.6L1760 2062.2L1765 2060.7L1770 2059.3L1775 2057.8L1780 2056.3L1785 2054.9L1790.1 2053.4L1795.1 2051.9L1800.1 2050.4L1805.1 2048.9L1810.1 2047.4L1815.1 2045.9L1820.1 2044.4L1825.1 2042.9L1830.1 2041.4L1835.1 2039.9L1840.2 2038.4L1845.2 2036.8L1850.2 2035.3L1855.2 2033.8L1860.2 2032.2L1865.2 2030.7L1870.2 2029.1L1875.2 2027.6L1880.2 2026L1885.3 2024.4L1890.3 2022.9L1895.3 2021.3L1900.3 2019.7L1905.3 2018.1L1910.3 2016.6L1915.3 2015L1920.3 2013.4L1925.3 2011.8L1930.3 2010.2L1935.4 2008.6L1940.4 2007L1945.4 2005.3L1950.4 2003.7L1955.4 2002.1L1960.4 2000.5L1965.4 1998.8L1970.4 1997.2L1975.4 1995.6L1980.5 1993.9L1985.5 1992.3L1990.5 1990.6L1995.5 1989L2000.5 1987.3L2005.5 1985.7L2010.5 1984L2015.5 1982.3L2020.5 1980.7L2025.5 1979L2030.6 1977.3L2035.6 1975.6L2040.6 1973.9L2045.6 1972.3L2050.6 1970.6L2055.6 1968.9L2060.6 1967.2L2065.6 1965.5L2070.6 1963.8L2075.7 1962.1L2080.7 1960.4L2085.7 1958.6L2090.7 1956.9L2095.7 1955.2L2100.7 1953.5L2105.7 1951.8L2110.7 1950L2115.7 1948.3L2120.7 1946.6L2125.8 1944.8L2130.8 1943.1L2135.8 1941.3L2140.8 1939.6L2145.8 1937.9L2150.8 1936.1L2155.8 1934.4L2160.8 1932.6L2165.8 1930.8L2170.9 1929.1L2175.9 1927.3L2180.9 1925.6L2185.9 1923.8L2190.9 1922L2195.9 1920.3L2200.9 1918.5L2205.9 1916.7L2210.9 1914.9L2215.9 1913.1L2221 1911.4L2226 1909.6L2231 1907.8L2236 1906L2241 1904.2" fill="none" stroke="#ff0000" stroke-width="8.9" stroke-linecap="round" stroke-linejoin="round" stroke-dasharray="25 38.17" stroke-dashoffset="-0.46"/>
<path d="M342 1881.2L347 1880.9L352 1880.7L357 1880.4L362 1880.1L367 1879.9L372 1879.6L377 1879.4L382 1879.1L387 1878.8L392 1878.5L397 1878.3L402 1878L407.1 1877.7L412.1 1877.4L417.1 1877.1L422.1 1876.8L427.1 1876.5L432.1 1876.2L437.1 1875.9L442.1 1875.6L447.1 1875.3L452.1 1875L457.1 1874.7L462.1 1874.3L467.1 1874L472.1 1873.7L477.1 1873.4L482.1 1873L487.1 1872.7L492.1 1872.3L497.1 1872L502.1 1871.7L507.1 1871.3L512.1 1871L517.1 1870.6L522.1 1870.2L527.1 1869.9L532.2 1869.5L537.2 1869.1L542.2 1868.8L547.2 1868.4L552.2 1868L557.2 1867.6L562.2 1867.2L567.2 1866.8L572.2 1866.5L577.2 1866.1L582.2 1865.7L587.2 1865.2L592.2 1864.8L597.2 1864.4L602.2 1864L607.2 1863.6L612.2 1863.2L617.2 1862.8L622.2 1862.3L627.2 1861.9L632.2 1861.5L637.2 1861L642.2 1860.6L647.2 1860.1L652.2 1859.7L657.2 1859.2L662.3 1858.8L667.3 1858.3L672.3 1857.8L677.3 1857.4L682.3 1856.9L687.3 1856.4L692.3 1856L697.3 1855.5L702.3 1855L707.3 1854.5L712.3 1854L717.3 1853.5L722.3 1853L727.3 1852.5L732.3 1852L737.3 1851.5L742.3 1851L747.3 1850.4L752.3 1849.9L757.3 1849.4L762.3 1848.9L767.3 1848.3L772.3 1847.8L777.3 1847.3L782.3 1846.7L787.4 1846.2L792.4 1845.6L797.4 1845.1L802.4 1844.5L807.4 1843.9L812.4 1843.4L817.4 1842.8L822.4 1842.2L827.4 1841.6L832.4 1841.1L837.4 1840.5L842.4 1839.9L847.4 1839.3L852.4 1838.7L857.4 1838.1L862.4 1837.5L867.4 1836.9L872.4 1836.3L877.4 1835.6L882.4 1835L887.4 1834.4L892.4 1833.8L897.4 1833.1L902.4 1832.5L907.4 1831.8L912.5 1831.2L917.5 1830.6L922.5 1829.9L927.5 1829.2L932.5 1828.6L937.5 1827.9L942.5 1827.2L947.5 1826.6L952.5 1825.9L957.5 1825.2L962.5 1824.5L967.5 1823.8L972.5 1823.1L977.5 1822.5L982.5 1821.7L987.5 1821L992.5 1820.3L997.5 1819.6L1002.5 1818.9L1007.5 1818.2L1012.5 1817.5L1017.5 1816.7L1022.5 1816L1027.5 1815.2L1032.5 1814.5L1037.5 1813.8L1042.6 1813L1047.6 1812.3L1052.6 1811.5L1057.6 1810.7L1062.6 1810L1067.6 1809.2L1072.6 1808.4L1077.6 1807.6L1082.6 1806.8L1087.6 1806.1L1092.6 1805.3L1097.6 1804.5L1102.6 1803.7L1107.6 1802.9L1112.6 1802.1L1117.6 1801.2L1122.6 1800.4L1127.6 1799.6L1132.6 1798.8L1137.6 1798L1142.6 1797.1L1147.6 1796.3L1152.6 1795.5L1157.6 1794.6L1162.6 1793.8L1167.7 1792.9L1172.7 1792.1L1177.7 1791.2L1182.7 1790.4L1187.7 1789.5L1192.7 1788.6L1197.7 1787.7L1202.7 1786.9L1207.7 1786L1212.7 1785.1L1217.7 1784.2L1222.7 1783.3L1227.7 1782.5L1232.7 1781.6L1237.7 1780.7L1242.7 1779.8L1247.7 1778.9L1252.7 1777.9L1257.7 1777L1262.7 1776.1L1267.7 1775.2L1272.7 1774.3L1277.7 1773.4L1282.7 1772.4L1287.7 1771.5L1292.8 1770.6L1297.8 1769.6L1302.8 1768.7L1307.8 1767.8L1312.8 1766.8L1317.8 1765.9L1322.8 1764.9L1327.8 1764L1332.8 1763L1337.8 1762L1342.8 1761.1L1347.8 1760.1L1352.8 1759.1L1357.8 1758.2L1362.8 1757.2L1367.8 1756.2L1372.8 1755.2L1377.8 1754.3L1382.8 1753.3L1387.8 1752.3L1392.8 1751.3L1397.8 1750.3L1402.8 1749.3L1407.8 1748.3L1412.8 1747.3L1417.8 1746.3L1422.9 1745.3L1427.9 1744.3L1432.9 1743.3L1437.9 1742.3L1442.9 1741.3L1447.9 1740.3L1452.9 1739.2L1457.9 1738.2L1462.9 1737.2L1467.9 1736.2L1472.9 1735.1L1477.9 1734.1L1482.9 1733.1L1487.9 1732L1492.9 1731L1497.9 1730L1502.9 1728.9L1507.9 1727.9L1512.9 1726.8L1517.9 1725.8L1522.9 1724.7L1527.9 1723.7L1532.9 1722.6L1537.9 1721.6L1542.9 1720.5L1548 1719.5L1553 1718.4L1558 1717.4L1563 1716.3L1568 1715.2L1573 1714.2L1578 1713.1L1583 1712L1588 1710.9L1593 1709.9L1598 1708.8L1603 1707.7L1608 1706.6" fill="none" stroke="#0000ff" stroke-width="8.9" stroke-linecap="round" stroke-linejoin="round" stroke-dasharray="25 38.22" stroke-dashoffset="-0.13"/>
<path d="M342 2606.3L347 2606.2L352 2606.1L357 2606.1L362 2606L367.1 2606L372.1 2605.9L377.1 2605.8L382.1 2605.8L387.1 2605.7L392.1 2605.6L397.1 2605.6L402.1 2605.5L407.1 2605.4L412.1 2605.4L417.2 2605.3L422.2 2605.2L427.2 2605.2L432.2 2605.1L437.2 2605L442.2 2604.9L447.2 2604.9L452.2 2604.8L457.2 2604.7L462.3 2604.6L467.3 2604.5L472.3 2604.5L477.3 2604.4L482.3 2604.3L487.3 2604.2L492.3 2604.1L497.3 2604.1L502.3 2604L507.3 2603.9L512.4 2603.8L517.4 2603.7L522.4 2603.6L527.4 2603.5L532.4 2603.4L537.4 2603.3L542.4 2603.3L547.4 2603.2L552.4 2603.1L557.5 2603L562.5 2602.9L567.5 2602.8L572.5 2602.7L577.5 2602.6L582.5 2602.5L587.5 2602.4L592.5 2602.3L597.5 2602.2L602.5 2602.1L607.6 2602L612.6 2601.9L617.6 2601.8L622.6 2601.7L627.6 2601.6L632.6 2601.5L637.6 2601.4L642.6 2601.2L647.6 2601.1L652.7 2601L657.7 2600.9L662.7 2600.8L667.7 2600.7L672.7 2600.6L677.7 2600.5L682.7 2600.3L687.7 2600.2L692.7 2600.1L697.7 2600L702.8 2599.9L707.8 2599.8L712.8 2599.6L717.8 2599.5L722.8 2599.4L727.8 2599.3L732.8 2599.1L737.8 2599L742.8 2598.9L747.9 2598.8L752.9 2598.6L757.9 2598.5L762.9 2598.4L767.9 2598.3L772.9 2598.1L777.9 2598L782.9 2597.9L787.9 2597.7L792.9 2597.6L798 2597.5L803 2597.3L808 2597.2L813 2597L818 2596.9L823 2596.8L828 2596.6L833 2596.5L838 2596.3L843.1 2596.2L848.1 2596L853.1 2595.9L858.1 2595.8L863.1 2595.6L868.1 2595.5L873.1 2595.3L878.1 2595.2L883.1 2595L888.2 2594.9L893.2 2594.7L898.2 2594.6L903.2 2594.4L908.2 2594.3L913.2 2594.1L918.2 2593.9L923.2 2593.8L928.2 2593.6L933.2 2593.5L938.3 2593.3L943.3 2593.1L948.3 2593L953.3 2592.8L958.3 2592.7L963.3 2592.5L968.3 2592.3L973.3 2592.2L978.3 2592L983.4 2591.8L988.4 2591.7L993.4 2591.5L998.4 2591.3L1003.4 2591.1L1008.4 2591L1013.4 2590.8L1018.4 2590.6L1023.4 2590.5L1028.4 2590.3L1033.5 2590.1L1038.5 2589.9L1043.5 2589.7L1048.5 2589.6L1053.5 2589.4L1058.5 2589.2L1063.5 2589L1068.5 2588.8L1073.5 2588.7L1078.6 2588.5L1083.6 2588.3L1088.6 2588.1L1093.6 2587.9L1098.6 2587.7L1103.6 2587.5L1108.6 2587.3L1113.6 2587.2L1118.6 2587L1123.6 2586.8L1128.7 2586.6L1133.7 2586.4L1138.7 2586.2L1143.7 2586L1148.7 2585.8L1153.7 2585.6L1158.7 2585.4L1163.7 2585.2L1168.7 2585L1173.8 2584.8L1178.8 2584.6L1183.8 2584.4L1188.8 2584.2L1193.8 2584L1198.8 2583.8L1203.8 2583.6L1208.8 2583.4L1213.8 2583.2L1218.8 2582.9L1223.9 2582.7L1228.9 2582.5L1233.9 2582.3L1238.9 2582.1L1243.9 2581.9L1248.9 2581.7L1253.9 2581.5L1258.9 2581.2L1263.9 2581L1269 2580.8L1274 2580.6L1279 2580.4L1284 2580.1L1289 2579.9L1294 2579.7L1299 2579.5L1304 2579.3L1309 2579L1314 2578.8L1319.1 2578.6L1324.1 2578.3L1329.1 2578.1L1334.1 2577.9L1339.1 2577.7L1344.1 2577.4L1349.1 2577.2L1354.1 2577L1359.1 2576.7L1364.2 2576.5L1369.2 2576.3L1374.2 2576L1379.2 2575.8L1384.2 2575.5L1389.2 2575.3L1394.2 2575.1L1399.2 2574.8L1404.2 2574.6L1409.2 2574.3L1414.3 2574.1L1419.3 2573.8L1424.3 2573.6L1429.3 2573.3L1434.3 2573.1L1439.3 2572.8L1444.3 2572.6L1449.3 2572.3L1454.3 2572.1L1459.4 2571.8L1464.4 2571.6L1469.4 2571.3L1474.4 2571.1L1479.4 2570.8L1484.4 2570.6L1489.4 2570.3L1494.4 2570.1L1499.4 2569.8L1504.4 2569.5L1509.5 2569.3L1514.5 2569L1519.5 2568.7L1524.5 2568.5L1529.5 2568.2L1534.5 2567.9L1539.5 2567.7L1544.5 2567.4L1549.5 2567.1L1554.6 2566.9L1559.6 2566.6L1564.6 2566.3L1569.6 2566.1L1574.6 2565.8L1579.6 2565.5L1584.6 2565.2L1589.6 2565L1594.6 2564.7L1599.6 2564.4L1604.7 2564.1L1609.7 2563.8L1614.7 2563.6L1619.7 2563.3L1624.7 2563L1629.7 2562.7L1634.7 2562.4L1639.7 2562.1L1644.7 2561.9L1649.8 2561.6L1654.8 2561.3L1659.8 2561L1664.8 2560.7L1669.8 2560.4L1674.8 2560.1L1679.8 2559.8L1684.8 2559.5L1689.8 2559.2L1694.8 2558.9L1699.9 2558.7L1704.9 2558.4L1709.9 2558.1L1714.9 2557.8L1719.9 2557.5L1724.9 2557.2L1729.9 2556.9L1734.9 2556.5L1739.9 2556.2L1745 2555.9L1750 2555.6L1755 2555.3L1760 2555L1765 2554.7L1770 2554.4L1775 2554.1L1780 2553.8L1785 2553.5L1790.1 2553.2L1795.1 2552.8L1800.1 2552.5L1805.1 2552.2L1810.1 2551.9L1815.1 2551.6L1820.1 2551.3L1825.1 2550.9L1830.1 2550.6L1835.1 2550.3L1840.2 2550L1845.2 2549.7L1850.2 2549.3L1855.2 2549L1860.2 2548.7L1865.2 2548.3L1870.2 2548L1875.2 2547.7L1880.2 2547.4L1885.3 2547L1890.3 2546.7L1895.3 2546.4L1900.3 2546L1905.3 2545.7L1910.3 2545.4L1915.3 2545L1920.3 2544.7L1925.3 2544.4L1930.3 2544L1935.4 2543.7L1940.4 2543.3L1945.4 2543L1950.4 2542.6L1955.4 2542.3L1960.4 2542L1965.4 2541.6L1970.4 2541.3L1975.4 2540.9L1980.5 2540.6L1985.5 2540.2L1990.5 2539.9L1995.5 2539.5L2000.5 2539.2L2005.5 2538.8L2010.5 2538.5L2015.5 2538.1L2020.5 2537.7L2025.5 2537.4L2030.6 2537L2035.6 2536.7L2040.6 2536.3L2045.6 2536L2050.6 2535.6L2055.6 2535.2L2060.6 2534.9L2065.6 2534.5L2070.6 2534.1L2075.7 2533.8L2080.7 2533.4L2085.7 2533L2090.7 2532.7L2095.7 2532.3L2100.7 2531.9L2105.7 2531.5L2110.7 2531.2L2115.7 2530.8L2120.7 2530.4L2125.8 2530.1L2130.8 2529.7L2135.8 2529.3L2140.8 2528.9L2145.8 2528.5L2150.8 2528.2L2155.8 2527.8L2160.8 2527.4L2165.8 2527L2170.9 2526.6L2175.9 2526.2L2180.9 2525.9L2185.9 2525.5L2190.9 2525.1L2195.9 2524.7L2200.9 2524.3L2205.9 2523.9L2210.9 2523.5L2215.9 2523.1L2221 2522.7L2226 2522.3L2231 2521.9L2236 2521.5L2241 2521.1" fill="none" stroke="#000000" stroke-width="8.9" stroke-linecap="round" stroke-linejoin="round" stroke-dasharray="1.5 34.39" stroke-dashoffset="0.79"/>
<path d="M342 2439.8L347 2439.6L352 2439.3L357 2439.1L362 2438.9L367.1 2438.7L372.1 2438.5L377.1 2438.2L382.1 2438L387.1 2437.8L392.1 2437.6L397.1 2437.3L402.1 2437.1L407.1 2436.9L412.1 2436.6L417.2 2436.4L422.2 2436.2L427.2 2435.9L432.2 2435.7L437.2 2435.5L442.2 2435.2L447.2 2435L452.2 2434.8L457.2 2434.5L462.3 2434.3L467.3 2434L472.3 2433.8L477.3 2433.5L482.3 2433.3L487.3 2433L492.3 2432.8L497.3 2432.5L502.3 2432.3L507.3 2432L512.4 2431.8L517.4 2431.5L522.4 2431.3L527.4 2431L532.4 2430.8L537.4 2430.5L542.4 2430.2L547.4 2430L552.4 2429.7L557.5 2429.4L562.5 2429.2L567.5 2428.9L572.5 2428.6L577.5 2428.4L582.5 2428.1L587.5 2427.8L592.5 2427.6L597.5 2427.3L602.5 2427L607.6 2426.7L612.6 2426.4L617.6 2426.2L622.6 2425.9L627.6 2425.6L632.6 2425.3L637.6 2425L642.6 2424.7L647.6 2424.4L652.7 2424.1L657.7 2423.9L662.7 2423.6L667.7 2423.3L672.7 2423L677.7 2422.7L682.7 2422.4L687.7 2422.1L692.7 2421.8L697.7 2421.5L702.8 2421.2L707.8 2420.8L712.8 2420.5L717.8 2420.2L722.8 2419.9L727.8 2419.6L732.8 2419.3L737.8 2419L742.8 2418.7L747.9 2418.3L752.9 2418L757.9 2417.7L762.9 2417.4L767.9 2417L772.9 2416.7L777.9 2416.4L782.9 2416L787.9 2415.7L792.9 2415.4L798 2415L803 2414.7L808 2414.4L813 2414L818 2413.7L823 2413.3L828 2413L833 2412.6L838 2412.3L843.1 2411.9L848.1 2411.6L853.1 2411.2L858.1 2410.9L863.1 2410.5L868.1 2410.2L873.1 2409.8L878.1 2409.4L883.1 2409.1L888.2 2408.7L893.2 2408.3L898.2 2408L903.2 2407.6L908.2 2407.2L913.2 2406.8L918.2 2406.5L923.2 2406.1L928.2 2405.7L933.2 2405.3L938.3 2404.9L943.3 2404.5L948.3 2404.2L953.3 2403.8L958.3 2403.4L963.3 2403L968.3 2402.6L973.3 2402.2L978.3 2401.8L983.4 2401.4L988.4 2401L993.4 2400.6L998.4 2400.2L1003.4 2399.8L1008.4 2399.3L1013.4 2398.9L1018.4 2398.5L1023.4 2398.1L1028.4 2397.7L1033.5 2397.3L1038.5 2396.8L1043.5 2396.4L1048.5 2396L1053.5 2395.5L1058.5 2395.1L1063.5 2394.7L1068.5 2394.2L1073.5 2393.8L1078.6 2393.4L1083.6 2392.9L1088.6 2392.5L1093.6 2392L1098.6 2391.6L1103.6 2391.1L1108.6 2390.7L1113.6 2390.2L1118.6 2389.8L1123.6 2389.3L1128.7 2388.8L1133.7 2388.4L1138.7 2387.9L1143.7 2387.4L1148.7 2387L1153.7 2386.5L1158.7 2386L1163.7 2385.6L1168.7 2385.1L1173.8 2384.6L1178.8 2384.1L1183.8 2383.6L1188.8 2383.1L1193.8 2382.6L1198.8 2382.2L1203.8 2381.7L1208.8 2381.2L1213.8 2380.7L1218.8 2380.2L1223.9 2379.7L1228.9 2379.2L1233.9 2378.6L1238.9 2378.1L1243.9 2377.6L1248.9 2377.1L1253.9 2376.6L1258.9 2376.1L1263.9 2375.6L1269 2375L1274 2374.5L1279 2374L1284 2373.4L1289 2372.9L1294 2372.4L1299 2371.8L1304 2371.3L1309 2370.7L1314 2370.2L1319.1 2369.7L1324.1 2369.1L1329.1 2368.5L1334.1 2368L1339.1 2367.4L1344.1 2366.9L1349.1 2366.3L1354.1 2365.7L1359.1 2365.2L1364.2 2364.6L1369.2 2364L1374.2 2363.5L1379.2 2362.9L1384.2 2362.3L1389.2 2361.7L1394.2 2361.1L1399.2 2360.6L1404.2 2360L1409.2 2359.4L1414.3 2358.8L1419.3 2358.2L1424.3 2357.6L1429.3 2357L1434.3 2356.4L1439.3 2355.8L1444.3 2355.2L1449.3 2354.6L1454.3 2354L1459.4 2353.3L1464.4 2352.7L1469.4 2352.1L1474.4 2351.5L1479.4 2350.9L1484.4 2350.2L1489.4 2349.6L1494.4 2349L1499.4 2348.3L1504.4 2347.7L1509.5 2347.1L1514.5 2346.4L1519.5 2345.8L1524.5 2345.1L1529.5 2344.5L1534.5 2343.9L1539.5 2343.2L1544.5 2342.6L1549.5 2341.9L1554.6 2341.2L1559.6 2340.6L1564.6 2339.9L1569.6 2339.3L1574.6 2338.6L1579.6 2337.9L1584.6 2337.2L1589.6 2336.6L1594.6 2335.9L1599.6 2335.2L1604.7 2334.5L1609.7 2333.9L1614.7 2333.2L1619.7 2332.5L1624.7 2331.8L1629.7 2331.1L1634.7 2330.4L1639.7 2329.7L1644.7 2329L1649.8 2328.3L1654.8 2327.6L1659.8 2326.9L1664.8 2326.2L1669.8 2325.5L1674.8 2324.8L1679.8 2324.1L1684.8 2323.4L1689.8 2322.7L1694.8 2321.9L1699.9 2321.2L1704.9 2320.5L1709.9 2319.8L1714.9 2319L1719.9 2318.3L1724.9 2317.6L1729.9 2316.8L1734.9 2316.1L1739.9 2315.4L1745 2314.6L1750 2313.9L1755 2313.1L1760 2312.4L1765 2311.7L1770 2310.9L1775 2310.2L1780 2309.4L1785 2308.6L1790.1 2307.9L1795.1 2307.1L1800.1 2306.4L1805.1 2305.6L1810.1 2304.8L1815.1 2304.1L1820.1 2303.3L1825.1 2302.5L1830.1 2301.7L1835.1 2301L1840.2 2300.2L1845.2 2299.4L1850.2 2298.6L1855.2 2297.8L1860.2 2297L1865.2 2296.3L1870.2 2295.5L1875.2 2294.7L1880.2 2293.9L1885.3 2293.1L1890.3 2292.3L1895.3 2291.5L1900.3 2290.7L1905.3 2289.9L1910.3 2289.1L1915.3 2288.3L1920.3 2287.4L1925.3 2286.6L1930.3 2285.8L1935.4 2285L1940.4 2284.2L1945.4 2283.4L1950.4 2282.5L1955.4 2281.7L1960.4 2280.9L1965.4 2280.1L1970.4 2279.2L1975.4 2278.4L1980.5 2277.6L1985.5 2276.7L1990.5 2275.9L1995.5 2275L2000.5 2274.2L2005.5 2273.4L2010.5 2272.5L2015.5 2271.7L2020.5 2270.8L2025.5 2270L2030.6 2269.1L2035.6 2268.3L2040.6 2267.4L2045.6 2266.5L2050.6 2265.7L2055.6 2264.8L2060.6 2264L2065.6 2263.1L2070.6 2262.2L2075.7 2261.3L2080.7 2260.5L2085.7 2259.6L2090.7 2258.7L2095.7 2257.8L2100.7 2257L2105.7 2256.1L2110.7 2255.2L2115.7 2254.3L2120.7 2253.4L2125.8 2252.5L2130.8 2251.7L2135.8 2250.8L2140.8 2249.9L2145.8 2249L2150.8 2248.1L2155.8 2247.2L2160.8 2246.3L2165.8 2245.4L2170.9 2244.5L2175.9 2243.6L2180.9 2242.6L2185.9 2241.7L2190.9 2240.8L2195.9 2239.9L2200.9 2239L2205.9 2238.1L2210.9 2237.2L2215.9 2236.2L2221 2235.3L2226 2234.4L2231 2233.5L2236 2232.5L2241 2231.6" fill="none" stroke="#ff0000" stroke-width="8.9" stroke-linecap="round" stroke-linejoin="round" stroke-dasharray="1.5 34.45" stroke-dashoffset="0.74"/>
<path d="M342 2249.2L347 2248.9L352 2248.5L357 2248.1L362 2247.7L367.1 2247.4L372.1 2247L377.1 2246.6L382.1 2246.2L387.1 2245.8L392.1 2245.4L397.1 2245.1L402.1 2244.7L407.1 2244.3L412.1 2243.9L417.2 2243.5L422.2 2243.1L427.2 2242.7L432.2 2242.3L437.2 2241.9L442.2 2241.6L447.2 2241.2L452.2 2240.8L457.2 2240.4L462.3 2240L467.3 2239.6L472.3 2239.2L477.3 2238.7L482.3 2238.3L487.3 2237.9L492.3 2237.5L497.3 2237.1L502.3 2236.7L507.3 2236.3L512.4 2235.9L517.4 2235.5L522.4 2235L527.4 2234.6L532.4 2234.2L537.4 2233.8L542.4 2233.4L547.4 2232.9L552.4 2232.5L557.5 2232.1L562.5 2231.6L567.5 2231.2L572.5 2230.8L577.5 2230.3L582.5 2229.9L587.5 2229.5L592.5 2229L597.5 2228.6L602.5 2228.1L607.6 2227.7L612.6 2227.2L617.6 2226.8L622.6 2226.3L627.6 2225.9L632.6 2225.4L637.6 2225L642.6 2224.5L647.6 2224.1L652.7 2223.6L657.7 2223.1L662.7 2222.7L667.7 2222.2L672.7 2221.7L677.7 2221.3L682.7 2220.8L687.7 2220.3L692.7 2219.8L697.7 2219.3L702.8 2218.9L707.8 2218.4L712.8 2217.9L717.8 2217.4L722.8 2216.9L727.8 2216.4L732.8 2215.9L737.8 2215.4L742.8 2214.9L747.9 2214.4L752.9 2213.9L757.9 2213.4L762.9 2212.9L767.9 2212.4L772.9 2211.9L777.9 2211.4L782.9 2210.9L787.9 2210.4L792.9 2209.8L798 2209.3L803 2208.8L808 2208.3L813 2207.7L818 2207.2L823 2206.7L828 2206.1L833 2205.6L838 2205L843.1 2204.5L848.1 2203.9L853.1 2203.4L858.1 2202.8L863.1 2202.3L868.1 2201.7L873.1 2201.2L878.1 2200.6L883.1 2200.1L888.2 2199.5L893.2 2198.9L898.2 2198.3L903.2 2197.8L908.2 2197.2L913.2 2196.6L918.2 2196L923.2 2195.4L928.2 2194.9L933.2 2194.3L938.3 2193.7L943.3 2193.1L948.3 2192.5L953.3 2191.9L958.3 2191.3L963.3 2190.7L968.3 2190.1L973.3 2189.5L978.3 2188.8L983.4 2188.2L988.4 2187.6L993.4 2187L998.4 2186.4L1003.4 2185.7L1008.4 2185.1L1013.4 2184.5L1018.4 2183.8L1023.4 2183.2L1028.4 2182.5L1033.5 2181.9L1038.5 2181.2L1043.5 2180.6L1048.5 2179.9L1053.5 2179.3L1058.5 2178.6L1063.5 2178L1068.5 2177.3L1073.5 2176.6L1078.6 2175.9L1083.6 2175.3L1088.6 2174.6L1093.6 2173.9L1098.6 2173.2L1103.6 2172.5L1108.6 2171.8L1113.6 2171.1L1118.6 2170.4L1123.6 2169.7L1128.7 2169L1133.7 2168.3L1138.7 2167.6L1143.7 2166.9L1148.7 2166.2L1153.7 2165.5L1158.7 2164.7L1163.7 2164L1168.7 2163.3L1173.8 2162.5L1178.8 2161.8L1183.8 2161.1L1188.8 2160.3L1193.8 2159.6L1198.8 2158.8L1203.8 2158.1L1208.8 2157.3L1213.8 2156.6L1218.8 2155.8L1223.9 2155L1228.9 2154.2L1233.9 2153.5L1238.9 2152.7L1243.9 2151.9L1248.9 2151.1L1253.9 2150.3L1258.9 2149.5L1263.9 2148.7L1269 2147.9L1274 2147.1L1279 2146.3L1284 2145.5L1289 2144.7L1294 2143.9L1299 2143.1L1304 2142.2L1309 2141.4L1314 2140.6L1319.1 2139.7L1324.1 2138.9L1329.1 2138.1L1334.1 2137.2L1339.1 2136.4L1344.1 2135.5L1349.1 2134.6L1354.1 2133.8L1359.1 2132.9L1364.2 2132L1369.2 2131.2L1374.2 2130.3L1379.2 2129.4L1384.2 2128.5L1389.2 2127.6L1394.2 2126.7L1399.2 2125.8L1404.2 2124.9L1409.2 2124L1414.3 2123.1L1419.3 2122.2L1424.3 2121.3L1429.3 2120.4L1434.3 2119.5L1439.3 2118.6L1444.3 2117.6L1449.3 2116.7L1454.3 2115.8L1459.4 2114.8L1464.4 2113.9L1469.4 2112.9L1474.4 2112L1479.4 2111L1484.4 2110.1L1489.4 2109.1L1494.4 2108.2L1499.4 2107.2L1504.4 2106.2L1509.5 2105.2L1514.5 2104.3L1519.5 2103.3L1524.5 2102.3L1529.5 2101.3L1534.5 2100.3L1539.5 2099.3L1544.5 2098.3L1549.5 2097.3L1554.6 2096.3L1559.6 2095.3L1564.6 2094.3L1569.6 2093.3L1574.6 2092.3L1579.6 2091.3L1584.6 2090.2L1589.6 2089.2L1594.6 2088.2L1599.6 2087.1L1604.7 2086.1L1609.7 2085.1L1614.7 2084L1619.7 2083L1624.7 2081.9L1629.7 2080.9L1634.7 2079.8L1639.7 2078.8L1644.7 2077.7L1649.8 2076.6L1654.8 2075.6L1659.8 2074.5L1664.8 2073.4L1669.8 2072.3L1674.8 2071.2L1679.8 2070.1L1684.8 2069.1L1689.8 2068L1694.8 2066.9L1699.9 2065.8L1704.9 2064.7L1709.9 2063.6L1714.9 2062.4L1719.9 2061.3L1724.9 2060.2L1729.9 2059.1L1734.9 2058L1739.9 2056.9L1745 2055.7L1750 2054.6L1755 2053.5L1760 2052.3L1765 2051.2L1770 2050L1775 2048.9L1780 2047.7L1785 2046.6L1790.1 2045.4L1795.1 2044.3L1800.1 2043.1L1805.1 2041.9L1810.1 2040.8L1815.1 2039.6L1820.1 2038.4L1825.1 2037.3L1830.1 2036.1L1835.1 2034.9L1840.2 2033.7L1845.2 2032.5L1850.2 2031.3L1855.2 2030.1L1860.2 2028.9L1865.2 2027.7L1870.2 2026.5L1875.2 2025.3L1880.2 2024.1L1885.3 2022.9L1890.3 2021.7L1895.3 2020.4L1900.3 2019.2L1905.3 2018L1910.3 2016.8L1915.3 2015.5L1920.3 2014.3L1925.3 2013.1L1930.3 2011.8L1935.4 2010.6L1940.4 2009.3L1945.4 2008.1L1950.4 2006.8L1955.4 2005.6L1960.4 2004.3L1965.4 2003.1L1970.4 2001.8L1975.4 2000.5L1980.5 1999.3L1985.5 1998L1990.5 1996.7L1995.5 1995.4L2000.5 1994.2L2005.5 1992.9L2010.5 1991.6L2015.5 1990.3L2020.5 1989L2025.5 1987.7L2030.6 1986.4L2035.6 1985.1L2040.6 1983.8L2045.6 1982.5L2050.6 1981.2L2055.6 1979.9L2060.6 1978.6L2065.6 1977.3L2070.6 1976L2075.7 1974.6L2080.7 1973.3L2085.7 1972L2090.7 1970.7L2095.7 1969.3L2100.7 1968L2105.7 1966.6L2110.7 1965.3L2115.7 1964L2120.7 1962.6L2125.8 1961.3L2130.8 1959.9L2135.8 1958.6L2140.8 1957.2L2145.8 1955.9L2150.8 1954.5L2155.8 1953.1L2160.8 1951.8L2165.8 1950.4L2170.9 1949L2175.9 1947.6L2180.9 1946.3L2185.9 1944.9L2190.9 1943.5L2195.9 1942.1L2200.9 1940.7L2205.9 1939.4L2210.9 1938L2215.9 1936.6L2221 1935.2L2226 1933.8L2231 1932.4L2236 1931L2241 1929.6" fill="none" stroke="#0000ff" stroke-width="8.9" stroke-linecap="round" stroke-linejoin="round" stroke-dasharray="1.5 34.46" stroke-dashoffset="-0.04"/>
</g>
<text transform="translate(358.2 1657) scale(1 1)" font-size="90.6" fill="#000">(b)</text>
<text transform="translate(499.5 1665) scale(1 1)" font-size="90.6" fill="#000">k = 25 nm</text>
<text transform="translate(1352.8 1627.2) scale(1 1.04)" font-size="90.6" fill="#000">E</text>
<text transform="translate(1413.9 1659) scale(1 1.035)" font-size="55.5" fill="#000">1</text>
<text transform="translate(1729 1627.2) scale(1 1.04)" font-size="90.6" fill="#000">E</text>
<text transform="translate(1790.7 1659) scale(1 1.035)" font-size="55.5" fill="#000">2</text>
<text transform="translate(2106.8 1627.2) scale(1 1.04)" font-size="90.6" fill="#000">E</text>
<text transform="translate(2167.7 1659) scale(1 1.035)" font-size="55.5" fill="#000">3</text>
<path d="M1125.7 1596H1329.2" stroke="#000000" stroke-width="8" stroke-linecap="round"/>
<path d="M1504.4 1596H1705.1" stroke="#ff0000" stroke-width="8" stroke-linecap="round"/>
<path d="M1880.8 1596H2081.5" stroke="#0000ff" stroke-width="8" stroke-linecap="round"/>
<text transform="translate(609.5 1957.3) scale(1 1.04)" font-size="90.6" fill="#000">CM</text>
<text transform="translate(609.5 2075) scale(1 1.01)" font-size="90.6" fill="#000">d = 30 nm</text>
<text transform="translate(609.5 2192) scale(1 1.01)" font-size="90.6" fill="#000">d = 50 nm</text>
<path d="M383.3 1926.1H585.3" stroke="#000" stroke-width="8" stroke-linecap="round"/>
<path d="M383.3 2043.4H584.6" stroke="#000" stroke-width="8" stroke-linecap="round" stroke-dasharray="25.5 37.5"/>
<path d="M382.5 2161H585.3" stroke="#000" stroke-width="8" stroke-linecap="round" stroke-dasharray="1.5 34.4"/>
<text transform="translate(285.7 2717.6) scale(1 1.035)" font-size="74.2" text-anchor="end" fill="#000">0</text>
<text transform="translate(285.7 2425.6) scale(1 1.035)" font-size="74.2" text-anchor="end" fill="#000">30</text>
<text transform="translate(285.7 2133.6) scale(1 1.035)" font-size="74.2" text-anchor="end" fill="#000">60</text>
<text transform="translate(285.7 1841.6) scale(1 1.035)" font-size="74.2" text-anchor="end" fill="#000">90</text>
<text transform="translate(285.7 1549.6) scale(1 1.035)" font-size="74.2" text-anchor="end" fill="#000">120</text>
<text transform="translate(342.5 2810) scale(1 1.035)" font-size="74.2" text-anchor="middle" fill="#000">0</text>
<text transform="translate(975.5 2810) scale(1 1.035)" font-size="74.2" text-anchor="middle" fill="#000">5</text>
<text transform="translate(1608.5 2810) scale(1 1.035)" font-size="74.2" text-anchor="middle" fill="#000">10</text>
<text transform="translate(2241.5 2810) scale(1 1.035)" font-size="74.2" text-anchor="middle" fill="#000">15</text>
<text transform="translate(100.1 2397.6) rotate(-90) scale(1 1.025)" font-size="99.4" fill="#000">Energy (meV)</text>
<text transform="translate(1118.1 2894.1) scale(1.13 1)" font-size="98.6" fill="#000">z</text>
<text transform="translate(1171.3 2927) scale(1 1.04)" font-size="87" fill="#000">0</text>
<text transform="translate(1247.3 2894.1) scale(1 1.01)" font-size="98.6" fill="#000">(nm)</text>
</g>
</g>
</svg></body></html>
